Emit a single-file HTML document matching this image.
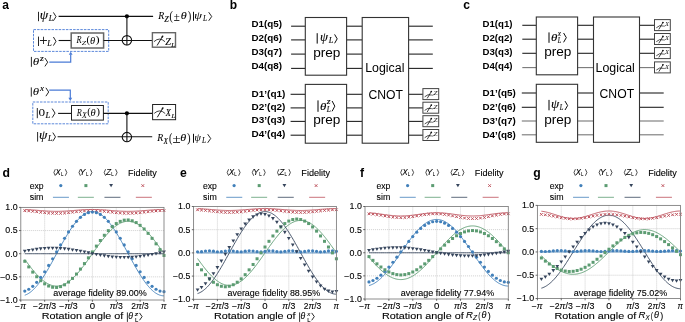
<!DOCTYPE html>
<html><head><meta charset="utf-8"><style>html,body{margin:0;padding:0;background:#fff;overflow:hidden}svg{display:block;will-change:transform}</style></head>
<body><svg width="685" height="322" viewBox="0 0 685 322">
<rect width="685" height="322" fill="#fff"/>
<text x="2.35" y="9" font-size="12" font-family="Liberation Sans" font-weight="bold" fill="#000" >a</text>
<line x1="38.5" y1="11.8" x2="38.5" y2="21.2" stroke="#000" stroke-width="0.85" />
<text x="39.79" y="18.9" font-size="11.5" font-family="Liberation Serif" font-style="italic" fill="#000" textLength="8.42" lengthAdjust="spacingAndGlyphs" stroke="#000" stroke-width="0.12">ψ</text>
<text x="48.89" y="21" font-size="8" font-family="Liberation Serif" font-style="italic" fill="#000" textLength="4.49" lengthAdjust="spacingAndGlyphs" stroke="#000" stroke-width="0.12">L</text>
<path d="M53.4 12.4 L56 16.6 L53.4 20.8" fill="none" stroke="#000" stroke-width="0.85" stroke-linejoin="miter"/>
<line x1="58.6" y1="16.4" x2="153.1" y2="16.4" stroke="#111" stroke-width="1.1" />
<rect x="33.5" y="29.6" width="75.2" height="21.8" stroke="#4A7BD6" stroke-width="0.9" fill="none" stroke-dasharray="2.5 1.1"/>
<line x1="38.5" y1="36.6" x2="38.5" y2="46" stroke="#000" stroke-width="0.85" />
<text x="39.16" y="44.7" font-size="15" font-family="Liberation Serif" fill="#000" textLength="8.36" lengthAdjust="spacingAndGlyphs" stroke="#000" stroke-width="0.12">+</text>
<text x="47.29" y="45.8" font-size="8" font-family="Liberation Serif" font-style="italic" fill="#000" textLength="4.49" lengthAdjust="spacingAndGlyphs" stroke="#000" stroke-width="0.12">L</text>
<path d="M53.4 37 L56 41.3 L53.4 45.6" fill="none" stroke="#000" stroke-width="0.85" stroke-linejoin="miter"/>
<line x1="58.6" y1="40.5" x2="71.2" y2="40.5" stroke="#111" stroke-width="1.1" />
<rect x="71.2" y="33" width="32.4" height="15" stroke="#666" stroke-width="1.5" fill="#fff" />
<text x="76.54" y="43.4" font-size="10.5" font-family="Liberation Serif" font-style="italic" fill="#000" textLength="5.09" lengthAdjust="spacingAndGlyphs" >R</text>
<text x="81.7" y="45.2" font-size="6.9" font-family="Liberation Serif" font-style="italic" fill="#000" textLength="4.43" lengthAdjust="spacingAndGlyphs" >Z</text>
<text x="86.64" y="43.35" font-size="10.1" font-family="Liberation Serif" fill="#000" textLength="3.5" lengthAdjust="spacingAndGlyphs" >(</text>
<text x="89.89" y="43.5" font-size="10.5" font-family="Liberation Serif" font-style="italic" fill="#000" textLength="5.16" lengthAdjust="spacingAndGlyphs" >θ</text>
<text x="95.6" y="43.35" font-size="10.1" font-family="Liberation Serif" fill="#000" textLength="4.15" lengthAdjust="spacingAndGlyphs" >)</text>
<line x1="103.6" y1="40.5" x2="152.4" y2="40.5" stroke="#111" stroke-width="1.1" />
<line x1="31.4" y1="56.9" x2="31.4" y2="66.8" stroke="#000" stroke-width="0.85" />
<text x="32.86" y="64.6" font-size="11" font-family="Liberation Serif" font-style="italic" fill="#000" textLength="6.45" lengthAdjust="spacingAndGlyphs" >θ</text>
<text x="40.11" y="61" font-size="7.5" font-family="Liberation Serif" font-style="italic" fill="#000" textLength="3.72" lengthAdjust="spacingAndGlyphs" stroke="#000" stroke-width="0.12">z</text>
<path d="M44.9 58 L47.7 62.2 L44.9 66.4" fill="none" stroke="#000" stroke-width="0.85" stroke-linejoin="miter"/>
<path d="M49.3 62.1 H70.7 V54.4" fill="none" stroke="#4A7BD6" stroke-width="1.2"/>
<path d="M68.8 54.8 L70.7 51.7 L72.6 54.8 Z" fill="#4A7BD6"/>
<circle cx="126.9" cy="16.3" r="2.1" fill="#000"/>
<line x1="126.9" y1="16.3" x2="126.9" y2="45.2" stroke="#111" stroke-width="1.1" />
<circle cx="126.9" cy="40.3" r="4.7" fill="none" stroke="#111" stroke-width="1.1"/>
<rect x="152.4" y="32.7" width="23.1" height="14.5" stroke="#666" stroke-width="1.4" fill="#fff" />
<path d="M154 41.6 Q159.5 36.55 165 41.7" fill="none" stroke="#111" stroke-width="0.8"/>
<line x1="157.1" y1="45.5" x2="162.3" y2="36.7" stroke="#111" stroke-width="0.95" />
<ellipse cx="162.4" cy="36.6" rx="0.9" ry="1.2" transform="rotate(30 162.4 36.6)" fill="#111"/>
<text x="165.28" y="44.6" font-size="9.5" font-family="Liberation Serif" font-style="italic" fill="#000" textLength="5.64" lengthAdjust="spacingAndGlyphs" stroke="#000" stroke-width="0.12">Z</text>
<text x="171.18" y="46.7" font-size="6.7" font-family="Liberation Serif" font-style="italic" fill="#000" textLength="3.74" lengthAdjust="spacingAndGlyphs" stroke="#000" stroke-width="0.12">L</text>
<text x="158.15" y="19" font-size="10.5" font-family="Liberation Serif" font-style="italic" fill="#000" textLength="6.01" lengthAdjust="spacingAndGlyphs" stroke="#000" stroke-width="0.08">R</text>
<text x="164.2" y="21.5" font-size="7.6" font-family="Liberation Serif" font-style="italic" fill="#000" textLength="4.43" lengthAdjust="spacingAndGlyphs" stroke="#000" stroke-width="0.08">Z</text>
<text x="169.57" y="19.5" font-size="11.7" font-family="Liberation Serif" fill="#000" textLength="3.24" lengthAdjust="spacingAndGlyphs" stroke="#000" stroke-width="0.08">(</text>
<text x="173.75" y="20.7" font-size="12.5" font-family="Liberation Serif" fill="#000" textLength="6.02" lengthAdjust="spacingAndGlyphs" stroke="#000" stroke-width="0.08">±</text>
<text x="180.81" y="19.3" font-size="10.5" font-family="Liberation Serif" font-style="italic" fill="#000" textLength="5.98" lengthAdjust="spacingAndGlyphs" stroke="#000" stroke-width="0.08">θ</text>
<text x="187.89" y="19.5" font-size="11.7" font-family="Liberation Serif" fill="#000" textLength="3.24" lengthAdjust="spacingAndGlyphs" stroke="#000" stroke-width="0.08">)</text>
<line x1="193.5" y1="11.8" x2="193.5" y2="20.8" stroke="#000" stroke-width="0.95" />
<text x="194.27" y="18.7" font-size="10" font-family="Liberation Serif" font-style="italic" fill="#000" textLength="7.66" lengthAdjust="spacingAndGlyphs" stroke="#000" stroke-width="0.08">ψ</text>
<text x="203.09" y="20.8" font-size="7.6" font-family="Liberation Serif" font-style="italic" fill="#000" textLength="4.06" lengthAdjust="spacingAndGlyphs" stroke="#000" stroke-width="0.08">L</text>
<path d="M208.7 12.2 L211.7 16.5 L208.7 20.8" fill="none" stroke="#000" stroke-width="0.85" stroke-linejoin="miter"/>
<line x1="31.3" y1="87.4" x2="31.3" y2="96.6" stroke="#000" stroke-width="0.85" />
<text x="32.77" y="95" font-size="11" font-family="Liberation Serif" font-style="italic" fill="#000" textLength="6.33" lengthAdjust="spacingAndGlyphs" >θ</text>
<text x="39.91" y="91.2" font-size="7.5" font-family="Liberation Serif" font-style="italic" fill="#000" textLength="3.96" lengthAdjust="spacingAndGlyphs" stroke="#000" stroke-width="0.12">x</text>
<path d="M45.9 87.8 L48.7 92 L45.9 96.2" fill="none" stroke="#000" stroke-width="0.85" stroke-linejoin="miter"/>
<path d="M49.2 90.2 H70.3 V98.0" fill="none" stroke="#4A7BD6" stroke-width="1.2"/>
<path d="M68.4 97.8 L70.3 100.9 L72.2 97.8 Z" fill="#4A7BD6"/>
<rect x="32.8" y="102" width="75.4" height="21.8" stroke="#4A7BD6" stroke-width="0.9" fill="none" stroke-dasharray="2.5 1.1"/>
<line x1="37.3" y1="108" x2="37.3" y2="118.2" stroke="#000" stroke-width="0.85" />
<text x="38.5" y="116.4" font-size="11" font-family="Liberation Serif" fill="#000" textLength="6.61" lengthAdjust="spacingAndGlyphs" >0</text>
<text x="45.5" y="118" font-size="8" font-family="Liberation Serif" font-style="italic" fill="#000" textLength="4.7" lengthAdjust="spacingAndGlyphs" stroke="#000" stroke-width="0.12">L</text>
<path d="M52.2 108.6 L55 113.1 L52.2 117.6" fill="none" stroke="#000" stroke-width="0.85" stroke-linejoin="miter"/>
<line x1="58.1" y1="113.4" x2="71.2" y2="113.4" stroke="#111" stroke-width="1.1" />
<rect x="71.5" y="105.5" width="31.9" height="14.6" stroke="#222" stroke-width="1" fill="#fff" />
<text x="76.84" y="115.7" font-size="10.5" font-family="Liberation Serif" font-style="italic" fill="#000" textLength="5.09" lengthAdjust="spacingAndGlyphs" >R</text>
<text x="82.06" y="117.5" font-size="7.3" font-family="Liberation Serif" font-style="italic" fill="#000" textLength="4.79" lengthAdjust="spacingAndGlyphs" >X</text>
<text x="87.24" y="115.4" font-size="9.8" font-family="Liberation Serif" fill="#000" textLength="3.5" lengthAdjust="spacingAndGlyphs" >(</text>
<text x="90.49" y="115.8" font-size="10.5" font-family="Liberation Serif" font-style="italic" fill="#000" textLength="5.16" lengthAdjust="spacingAndGlyphs" >θ</text>
<text x="96.24" y="115.4" font-size="9.8" font-family="Liberation Serif" fill="#000" textLength="3.76" lengthAdjust="spacingAndGlyphs" >)</text>
<line x1="103.2" y1="113.4" x2="152.6" y2="113.4" stroke="#111" stroke-width="1.1" />
<circle cx="126.9" cy="113.3" r="2.1" fill="#000"/>
<line x1="126.9" y1="113.3" x2="126.9" y2="142" stroke="#111" stroke-width="1.1" />
<circle cx="126.9" cy="137.1" r="4.7" fill="none" stroke="#111" stroke-width="1.1"/>
<rect x="152.6" y="104.5" width="23" height="15.2" stroke="#222" stroke-width="1" fill="#fff" />
<path d="M154.2 113.4 Q159.7 108.35 165.2 113.5" fill="none" stroke="#111" stroke-width="0.8"/>
<line x1="157.3" y1="117.3" x2="162.5" y2="108.5" stroke="#111" stroke-width="0.95" />
<ellipse cx="162.6" cy="108.4" rx="0.9" ry="1.2" transform="rotate(30 162.6 108.4)" fill="#111"/>
<text x="165.87" y="116.4" font-size="9.5" font-family="Liberation Serif" font-style="italic" fill="#000" textLength="5.06" lengthAdjust="spacingAndGlyphs" stroke="#000" stroke-width="0.12">X</text>
<text x="171.38" y="117.8" font-size="6.7" font-family="Liberation Serif" font-style="italic" fill="#000" textLength="3.74" lengthAdjust="spacingAndGlyphs" stroke="#000" stroke-width="0.12">L</text>
<line x1="37.6" y1="132" x2="37.6" y2="141.6" stroke="#000" stroke-width="0.85" />
<text x="38.99" y="139.2" font-size="11.5" font-family="Liberation Serif" font-style="italic" fill="#000" textLength="8.42" lengthAdjust="spacingAndGlyphs" stroke="#000" stroke-width="0.12">ψ</text>
<text x="48.09" y="141.4" font-size="8" font-family="Liberation Serif" font-style="italic" fill="#000" textLength="4.49" lengthAdjust="spacingAndGlyphs" stroke="#000" stroke-width="0.12">L</text>
<path d="M52.8 132.6 L55.5 136.9 L52.8 141.2" fill="none" stroke="#000" stroke-width="0.85" stroke-linejoin="miter"/>
<line x1="57.6" y1="136.8" x2="152.2" y2="136.8" stroke="#111" stroke-width="1.1" />
<text x="157.15" y="141" font-size="10.5" font-family="Liberation Serif" font-style="italic" fill="#000" textLength="6.01" lengthAdjust="spacingAndGlyphs" stroke="#000" stroke-width="0.08">R</text>
<text x="163.54" y="143.5" font-size="7.6" font-family="Liberation Serif" font-style="italic" fill="#000" textLength="4.34" lengthAdjust="spacingAndGlyphs" stroke="#000" stroke-width="0.08">X</text>
<text x="168.97" y="141.5" font-size="11.7" font-family="Liberation Serif" fill="#000" textLength="3.24" lengthAdjust="spacingAndGlyphs" stroke="#000" stroke-width="0.08">(</text>
<text x="172.58" y="142.7" font-size="12.5" font-family="Liberation Serif" fill="#000" textLength="8.14" lengthAdjust="spacingAndGlyphs" stroke="#000" stroke-width="0.08">±</text>
<text x="180.21" y="141.3" font-size="10.5" font-family="Liberation Serif" font-style="italic" fill="#000" textLength="5.98" lengthAdjust="spacingAndGlyphs" stroke="#000" stroke-width="0.08">θ</text>
<text x="187.29" y="141.5" font-size="11.7" font-family="Liberation Serif" fill="#000" textLength="3.24" lengthAdjust="spacingAndGlyphs" stroke="#000" stroke-width="0.08">)</text>
<line x1="193.5" y1="133.8" x2="193.5" y2="142.8" stroke="#000" stroke-width="0.95" />
<text x="194.59" y="140.7" font-size="10" font-family="Liberation Serif" font-style="italic" fill="#000" textLength="6.37" lengthAdjust="spacingAndGlyphs" stroke="#000" stroke-width="0.08">ψ</text>
<text x="202.09" y="142.8" font-size="7.6" font-family="Liberation Serif" font-style="italic" fill="#000" textLength="4.06" lengthAdjust="spacingAndGlyphs" stroke="#000" stroke-width="0.08">L</text>
<path d="M207.7 134.2 L210.7 138.5 L207.7 142.8" fill="none" stroke="#000" stroke-width="0.85" stroke-linejoin="miter"/>
<text x="229.81" y="9" font-size="12" font-family="Liberation Sans" font-weight="bold" fill="#000" >b</text>
<text x="251.54" y="26.7" font-size="8.9" font-family="Liberation Sans" font-weight="bold" fill="#000" textLength="30.55" lengthAdjust="spacingAndGlyphs" >D1(q5)</text>
<text x="251.54" y="40.5" font-size="8.9" font-family="Liberation Sans" font-weight="bold" fill="#000" textLength="30.55" lengthAdjust="spacingAndGlyphs" >D2(q6)</text>
<text x="251.54" y="54.8" font-size="8.9" font-family="Liberation Sans" font-weight="bold" fill="#000" textLength="30.55" lengthAdjust="spacingAndGlyphs" >D3(q7)</text>
<text x="251.54" y="69.2" font-size="8.9" font-family="Liberation Sans" font-weight="bold" fill="#000" textLength="30.55" lengthAdjust="spacingAndGlyphs" >D4(q8)</text>
<text x="251.53" y="96.5" font-size="8.9" font-family="Liberation Sans" font-weight="bold" fill="#000" textLength="33.87" lengthAdjust="spacingAndGlyphs" >D1’(q1)</text>
<text x="251.53" y="110.4" font-size="8.9" font-family="Liberation Sans" font-weight="bold" fill="#000" textLength="33.87" lengthAdjust="spacingAndGlyphs" >D2’(q2)</text>
<text x="251.53" y="123.2" font-size="8.9" font-family="Liberation Sans" font-weight="bold" fill="#000" textLength="33.87" lengthAdjust="spacingAndGlyphs" >D3’(q3)</text>
<text x="251.53" y="137" font-size="8.9" font-family="Liberation Sans" font-weight="bold" fill="#000" textLength="33.87" lengthAdjust="spacingAndGlyphs" >D4’(q4)</text>
<line x1="291.1" y1="26.2" x2="305.3" y2="26.2" stroke="#222" stroke-width="1.1" />
<line x1="346.6" y1="26.2" x2="362.2" y2="26.2" stroke="#222" stroke-width="1.1" />
<line x1="408.6" y1="26.2" x2="432.8" y2="26.2" stroke="#222" stroke-width="1.1" />
<line x1="291.1" y1="39.9" x2="305.3" y2="39.9" stroke="#222" stroke-width="1.1" />
<line x1="346.6" y1="39.9" x2="362.2" y2="39.9" stroke="#222" stroke-width="1.1" />
<line x1="408.6" y1="39.9" x2="432.8" y2="39.9" stroke="#222" stroke-width="1.1" />
<line x1="291.1" y1="54.1" x2="305.3" y2="54.1" stroke="#222" stroke-width="1.1" />
<line x1="346.6" y1="54.1" x2="362.2" y2="54.1" stroke="#222" stroke-width="1.1" />
<line x1="408.6" y1="54.1" x2="432.8" y2="54.1" stroke="#222" stroke-width="1.1" />
<line x1="291.1" y1="68.4" x2="305.3" y2="68.4" stroke="#222" stroke-width="1.1" />
<line x1="346.6" y1="68.4" x2="362.2" y2="68.4" stroke="#222" stroke-width="1.1" />
<line x1="408.6" y1="68.4" x2="432.8" y2="68.4" stroke="#222" stroke-width="1.1" />
<line x1="290.6" y1="94.3" x2="305.3" y2="94.3" stroke="#222" stroke-width="1.1" />
<line x1="346.6" y1="94.3" x2="362.2" y2="94.3" stroke="#222" stroke-width="1.1" />
<line x1="408.6" y1="94.3" x2="422.9" y2="94.3" stroke="#222" stroke-width="1.1" />
<line x1="290.6" y1="107.9" x2="305.3" y2="107.9" stroke="#222" stroke-width="1.1" />
<line x1="346.6" y1="107.9" x2="362.2" y2="107.9" stroke="#222" stroke-width="1.1" />
<line x1="408.6" y1="107.9" x2="422.9" y2="107.9" stroke="#222" stroke-width="1.1" />
<line x1="290.6" y1="121.4" x2="305.3" y2="121.4" stroke="#222" stroke-width="1.1" />
<line x1="346.6" y1="121.4" x2="362.2" y2="121.4" stroke="#222" stroke-width="1.1" />
<line x1="408.6" y1="121.4" x2="422.9" y2="121.4" stroke="#222" stroke-width="1.1" />
<line x1="290.6" y1="135.2" x2="305.3" y2="135.2" stroke="#222" stroke-width="1.1" />
<line x1="346.6" y1="135.2" x2="362.2" y2="135.2" stroke="#222" stroke-width="1.1" />
<line x1="408.6" y1="135.2" x2="422.9" y2="135.2" stroke="#222" stroke-width="1.1" />
<rect x="305.3" y="17.5" width="41.3" height="57.7" stroke="#333" stroke-width="1.1" fill="#fff" />
<rect x="305.3" y="84.4" width="41.3" height="58.8" stroke="#333" stroke-width="1.1" fill="#fff" />
<rect x="362.2" y="17.5" width="46.4" height="125.7" stroke="#333" stroke-width="1.1" fill="#fff" />
<line x1="317.2" y1="33.2" x2="317.2" y2="43.6" stroke="#000" stroke-width="1" />
<text x="320.03" y="41.3" font-size="11.5" font-family="Liberation Serif" font-style="italic" fill="#000" textLength="7.98" lengthAdjust="spacingAndGlyphs" stroke="#000" stroke-width="0.12">ψ</text>
<text x="328.7" y="43.3" font-size="7.8" font-family="Liberation Serif" font-style="italic" fill="#000" textLength="4.59" lengthAdjust="spacingAndGlyphs" stroke="#000" stroke-width="0.12">L</text>
<path d="M334.6 34.4 L337.2 38.85 L334.6 43.3" fill="none" stroke="#000" stroke-width="0.95" stroke-linejoin="miter"/>
<line x1="318" y1="100.4" x2="318" y2="111.8" stroke="#000" stroke-width="1" />
<text x="320.07" y="109.6" font-size="11" font-family="Liberation Serif" font-style="italic" fill="#000" textLength="6.33" lengthAdjust="spacingAndGlyphs" stroke="#000" stroke-width="0.12">θ</text>
<text x="326.81" y="104.2" font-size="7.4" font-family="Liberation Serif" font-style="italic" fill="#000" textLength="3.82" lengthAdjust="spacingAndGlyphs" stroke="#000" stroke-width="0.12">z</text>
<text x="326.79" y="112.4" font-size="7.4" font-family="Liberation Serif" font-style="italic" fill="#000" textLength="4.06" lengthAdjust="spacingAndGlyphs" stroke="#000" stroke-width="0.12">L</text>
<path d="M332.1 101 L334.8 106.15 L332.1 111.3" fill="none" stroke="#000" stroke-width="0.95" stroke-linejoin="miter"/>
<text x="313.17" y="56.9" font-size="12.5" font-family="Liberation Sans" fill="#000" textLength="27.25" lengthAdjust="spacingAndGlyphs" >prep</text>
<text x="313.17" y="123.8" font-size="12.5" font-family="Liberation Sans" fill="#000" textLength="27.25" lengthAdjust="spacingAndGlyphs" >prep</text>
<text x="365.18" y="72.1" font-size="12" font-family="Liberation Sans" fill="#000" textLength="39.24" lengthAdjust="spacingAndGlyphs" >Logical</text>
<text x="368.48" y="98.5" font-size="12" font-family="Liberation Sans" fill="#000" textLength="34.5" lengthAdjust="spacingAndGlyphs" >CNOT</text>
<rect x="422.9" y="88.6" width="15.8" height="11" stroke="#444" stroke-width="1" fill="#fff" />
<path d="M424.7 96.8 Q427.9 93.6 431.3 95" fill="none" stroke="#111" stroke-width="0.75"/>
<line x1="427.2" y1="98.4" x2="431.5" y2="91.2" stroke="#111" stroke-width="0.8" />
<circle cx="431.3" cy="91.5" r="0.85" fill="#111"/>
<path d="M431.3 95 Q432.9 95.6 433.9 94.6" fill="none" stroke="#111" stroke-width="0.6"/>
<text x="433.41" y="95.2" font-size="6.8" font-family="Liberation Serif" font-style="italic" fill="#000" textLength="4.03" lengthAdjust="spacingAndGlyphs" >Z</text>
<rect x="422.9" y="102.2" width="15.8" height="11" stroke="#444" stroke-width="1" fill="#fff" />
<path d="M424.7 110.4 Q427.9 107.2 431.3 108.6" fill="none" stroke="#111" stroke-width="0.75"/>
<line x1="427.2" y1="112" x2="431.5" y2="104.8" stroke="#111" stroke-width="0.8" />
<circle cx="431.3" cy="105.1" r="0.85" fill="#111"/>
<path d="M431.3 108.6 Q432.9 109.2 433.9 108.2" fill="none" stroke="#111" stroke-width="0.6"/>
<text x="433.41" y="108.8" font-size="6.8" font-family="Liberation Serif" font-style="italic" fill="#000" textLength="4.03" lengthAdjust="spacingAndGlyphs" >Z</text>
<rect x="422.9" y="115.7" width="15.8" height="11" stroke="#444" stroke-width="1" fill="#fff" />
<path d="M424.7 123.9 Q427.9 120.7 431.3 122.1" fill="none" stroke="#111" stroke-width="0.75"/>
<line x1="427.2" y1="125.5" x2="431.5" y2="118.3" stroke="#111" stroke-width="0.8" />
<circle cx="431.3" cy="118.6" r="0.85" fill="#111"/>
<path d="M431.3 122.1 Q432.9 122.7 433.9 121.7" fill="none" stroke="#111" stroke-width="0.6"/>
<text x="433.41" y="122.3" font-size="6.8" font-family="Liberation Serif" font-style="italic" fill="#000" textLength="4.03" lengthAdjust="spacingAndGlyphs" >Z</text>
<rect x="422.9" y="129.5" width="15.8" height="11" stroke="#444" stroke-width="1" fill="#fff" />
<path d="M424.7 137.7 Q427.9 134.5 431.3 135.9" fill="none" stroke="#111" stroke-width="0.75"/>
<line x1="427.2" y1="139.3" x2="431.5" y2="132.1" stroke="#111" stroke-width="0.8" />
<circle cx="431.3" cy="132.4" r="0.85" fill="#111"/>
<path d="M431.3 135.9 Q432.9 136.5 433.9 135.5" fill="none" stroke="#111" stroke-width="0.6"/>
<text x="433.41" y="136.1" font-size="6.8" font-family="Liberation Serif" font-style="italic" fill="#000" textLength="4.03" lengthAdjust="spacingAndGlyphs" >Z</text>
<text x="463.13" y="9" font-size="12" font-family="Liberation Sans" font-weight="bold" fill="#000" >c</text>
<text x="482.45" y="27.4" font-size="8.9" font-family="Liberation Sans" font-weight="bold" fill="#000" textLength="30.03" lengthAdjust="spacingAndGlyphs" >D1(q1)</text>
<text x="482.45" y="40.8" font-size="8.9" font-family="Liberation Sans" font-weight="bold" fill="#000" textLength="30.03" lengthAdjust="spacingAndGlyphs" >D2(q2)</text>
<text x="482.45" y="54.8" font-size="8.9" font-family="Liberation Sans" font-weight="bold" fill="#000" textLength="30.03" lengthAdjust="spacingAndGlyphs" >D3(q3)</text>
<text x="482.45" y="69.3" font-size="8.9" font-family="Liberation Sans" font-weight="bold" fill="#000" textLength="30.03" lengthAdjust="spacingAndGlyphs" >D4(q4)</text>
<text x="482.44" y="96.2" font-size="8.9" font-family="Liberation Sans" font-weight="bold" fill="#000" textLength="33.45" lengthAdjust="spacingAndGlyphs" >D1’(q5)</text>
<text x="482.44" y="110.1" font-size="8.9" font-family="Liberation Sans" font-weight="bold" fill="#000" textLength="33.45" lengthAdjust="spacingAndGlyphs" >D2’(q6)</text>
<text x="482.44" y="123.8" font-size="8.9" font-family="Liberation Sans" font-weight="bold" fill="#000" textLength="33.45" lengthAdjust="spacingAndGlyphs" >D3’(q7)</text>
<text x="482.44" y="137.6" font-size="8.9" font-family="Liberation Sans" font-weight="bold" fill="#000" textLength="33.45" lengthAdjust="spacingAndGlyphs" >D4’(q8)</text>
<line x1="522.3" y1="25.3" x2="536.3" y2="25.3" stroke="#222" stroke-width="1.1" />
<line x1="577.6" y1="25.3" x2="593.5" y2="25.3" stroke="#222" stroke-width="1.1" />
<line x1="639.5" y1="25.3" x2="654.4" y2="25.3" stroke="#222" stroke-width="1.1" />
<line x1="522.3" y1="39.2" x2="536.3" y2="39.2" stroke="#222" stroke-width="1.1" />
<line x1="577.6" y1="39.2" x2="593.5" y2="39.2" stroke="#222" stroke-width="1.1" />
<line x1="639.5" y1="39.2" x2="654.4" y2="39.2" stroke="#222" stroke-width="1.1" />
<line x1="522.3" y1="53.3" x2="536.3" y2="53.3" stroke="#222" stroke-width="1.1" />
<line x1="577.6" y1="53.3" x2="593.5" y2="53.3" stroke="#222" stroke-width="1.1" />
<line x1="639.5" y1="53.3" x2="654.4" y2="53.3" stroke="#222" stroke-width="1.1" />
<line x1="522.3" y1="67.6" x2="536.3" y2="67.6" stroke="#777" stroke-width="1.1" />
<line x1="577.6" y1="67.6" x2="593.5" y2="67.6" stroke="#777" stroke-width="1.1" />
<line x1="639.5" y1="67.6" x2="654.4" y2="67.6" stroke="#777" stroke-width="1.1" />
<line x1="521.8" y1="93" x2="536.3" y2="93" stroke="#222" stroke-width="1.1" />
<line x1="577.6" y1="93" x2="593.5" y2="93" stroke="#222" stroke-width="1.1" />
<line x1="639.5" y1="93" x2="663.7" y2="93" stroke="#222" stroke-width="1.1" />
<line x1="521.8" y1="107.3" x2="536.3" y2="107.3" stroke="#222" stroke-width="1.1" />
<line x1="577.6" y1="107.3" x2="593.5" y2="107.3" stroke="#222" stroke-width="1.1" />
<line x1="639.5" y1="107.3" x2="663.7" y2="107.3" stroke="#222" stroke-width="1.1" />
<line x1="521.8" y1="121" x2="536.3" y2="121" stroke="#777" stroke-width="1.1" />
<line x1="577.6" y1="121" x2="593.5" y2="121" stroke="#777" stroke-width="1.1" />
<line x1="639.5" y1="121" x2="663.7" y2="121" stroke="#777" stroke-width="1.1" />
<line x1="521.8" y1="134.8" x2="536.3" y2="134.8" stroke="#777" stroke-width="1.1" />
<line x1="577.6" y1="134.8" x2="593.5" y2="134.8" stroke="#777" stroke-width="1.1" />
<line x1="639.5" y1="134.8" x2="663.7" y2="134.8" stroke="#777" stroke-width="1.1" />
<rect x="536.3" y="17" width="41.3" height="57.8" stroke="#333" stroke-width="1.1" fill="#fff" />
<rect x="536.3" y="84.3" width="41.3" height="58" stroke="#333" stroke-width="1.1" fill="#fff" />
<rect x="593.5" y="17" width="46" height="125.3" stroke="#333" stroke-width="1.1" fill="#fff" />
<line x1="549" y1="32.4" x2="549" y2="42.8" stroke="#000" stroke-width="1" />
<text x="551.07" y="40.6" font-size="11" font-family="Liberation Serif" font-style="italic" fill="#000" textLength="6.33" lengthAdjust="spacingAndGlyphs" stroke="#000" stroke-width="0.12">θ</text>
<text x="557.79" y="36.2" font-size="7.4" font-family="Liberation Serif" font-style="italic" fill="#000" textLength="3.26" lengthAdjust="spacingAndGlyphs" stroke="#000" stroke-width="0.12">x</text>
<text x="557.77" y="43.4" font-size="7.4" font-family="Liberation Serif" font-style="italic" fill="#000" textLength="3.53" lengthAdjust="spacingAndGlyphs" stroke="#000" stroke-width="0.12">L</text>
<path d="M563.6 33 L566.3 37.65 L563.6 42.3" fill="none" stroke="#000" stroke-width="0.95" stroke-linejoin="miter"/>
<line x1="549" y1="99.9" x2="549" y2="110.3" stroke="#000" stroke-width="1" />
<text x="550.91" y="108" font-size="11.5" font-family="Liberation Serif" font-style="italic" fill="#000" textLength="8.2" lengthAdjust="spacingAndGlyphs" stroke="#000" stroke-width="0.12">ψ</text>
<text x="559.78" y="110" font-size="7.8" font-family="Liberation Serif" font-style="italic" fill="#000" textLength="3.63" lengthAdjust="spacingAndGlyphs" stroke="#000" stroke-width="0.12">L</text>
<path d="M565 101.1 L567.6 105.55 L565 110" fill="none" stroke="#000" stroke-width="0.95" stroke-linejoin="miter"/>
<text x="544.17" y="55.8" font-size="12.5" font-family="Liberation Sans" fill="#000" textLength="27.25" lengthAdjust="spacingAndGlyphs" >prep</text>
<text x="544.17" y="123.8" font-size="12.5" font-family="Liberation Sans" fill="#000" textLength="27.25" lengthAdjust="spacingAndGlyphs" >prep</text>
<text x="595.58" y="71.5" font-size="12" font-family="Liberation Sans" fill="#000" textLength="39.24" lengthAdjust="spacingAndGlyphs" >Logical</text>
<text x="599.58" y="97.6" font-size="12" font-family="Liberation Sans" fill="#000" textLength="34.5" lengthAdjust="spacingAndGlyphs" >CNOT</text>
<rect x="654.5" y="19.6" width="15.8" height="11" stroke="#444" stroke-width="1" fill="#fff" />
<path d="M656.3 27.8 Q659.5 24.6 662.9 26" fill="none" stroke="#111" stroke-width="0.75"/>
<line x1="658.8" y1="29.4" x2="663.1" y2="22.2" stroke="#111" stroke-width="0.8" />
<circle cx="662.9" cy="22.5" r="0.85" fill="#111"/>
<path d="M662.9 26 Q664.5 26.6 665.5 25.6" fill="none" stroke="#111" stroke-width="0.6"/>
<text x="665.3" y="26.2" font-size="6.8" font-family="Liberation Serif" font-style="italic" fill="#000" textLength="3.61" lengthAdjust="spacingAndGlyphs" >X</text>
<rect x="654.5" y="33.5" width="15.8" height="11" stroke="#444" stroke-width="1" fill="#fff" />
<path d="M656.3 41.7 Q659.5 38.5 662.9 39.9" fill="none" stroke="#111" stroke-width="0.75"/>
<line x1="658.8" y1="43.3" x2="663.1" y2="36.1" stroke="#111" stroke-width="0.8" />
<circle cx="662.9" cy="36.4" r="0.85" fill="#111"/>
<path d="M662.9 39.9 Q664.5 40.5 665.5 39.5" fill="none" stroke="#111" stroke-width="0.6"/>
<text x="665.3" y="40.1" font-size="6.8" font-family="Liberation Serif" font-style="italic" fill="#000" textLength="3.61" lengthAdjust="spacingAndGlyphs" >X</text>
<rect x="654.5" y="47.6" width="15.8" height="11" stroke="#444" stroke-width="1" fill="#fff" />
<path d="M656.3 55.8 Q659.5 52.6 662.9 54" fill="none" stroke="#111" stroke-width="0.75"/>
<line x1="658.8" y1="57.4" x2="663.1" y2="50.2" stroke="#111" stroke-width="0.8" />
<circle cx="662.9" cy="50.5" r="0.85" fill="#111"/>
<path d="M662.9 54 Q664.5 54.6 665.5 53.6" fill="none" stroke="#111" stroke-width="0.6"/>
<text x="665.3" y="54.2" font-size="6.8" font-family="Liberation Serif" font-style="italic" fill="#000" textLength="3.61" lengthAdjust="spacingAndGlyphs" >X</text>
<rect x="654.5" y="61.9" width="15.8" height="11" stroke="#444" stroke-width="1" fill="#fff" />
<path d="M656.3 70.1 Q659.5 66.9 662.9 68.3" fill="none" stroke="#111" stroke-width="0.75"/>
<line x1="658.8" y1="71.7" x2="663.1" y2="64.5" stroke="#111" stroke-width="0.8" />
<circle cx="662.9" cy="64.8" r="0.85" fill="#111"/>
<path d="M662.9 68.3 Q664.5 68.9 665.5 67.9" fill="none" stroke="#111" stroke-width="0.6"/>
<text x="665.3" y="68.5" font-size="6.8" font-family="Liberation Serif" font-style="italic" fill="#000" textLength="3.61" lengthAdjust="spacingAndGlyphs" >X</text>
<text x="2.6" y="176.5" font-size="12.2" font-family="Liberation Sans" font-weight="bold" fill="#000" >d</text>
<path d="M55.3 169.2 L53.9 172.5 L55.3 175.8" fill="none" stroke="#222" stroke-width="0.8"/>
<text x="55.6" y="174.8" font-size="8.3" font-family="Liberation Sans" font-style="italic" fill="#000" textLength="5.16" lengthAdjust="spacingAndGlyphs" stroke="#000" stroke-width="0.1">X</text>
<text x="60.95" y="176.4" font-size="5.7" font-family="Liberation Sans" fill="#000" textLength="2.4" lengthAdjust="spacingAndGlyphs" stroke="#000" stroke-width="0.1">L</text>
<path d="M65.3 169.2 L66.8 172.5 L65.3 175.8" fill="none" stroke="#222" stroke-width="0.8" stroke-linejoin="miter"/>
<path d="M80.4 169.2 L79 172.5 L80.4 175.8" fill="none" stroke="#222" stroke-width="0.8"/>
<text x="79.62" y="174.8" font-size="8.3" font-family="Liberation Sans" font-style="italic" fill="#000" textLength="5.94" lengthAdjust="spacingAndGlyphs" stroke="#000" stroke-width="0.1">Y</text>
<text x="86.05" y="176.4" font-size="5.7" font-family="Liberation Sans" fill="#000" textLength="2.4" lengthAdjust="spacingAndGlyphs" stroke="#000" stroke-width="0.1">L</text>
<path d="M90.4 169.2 L91.9 172.5 L90.4 175.8" fill="none" stroke="#222" stroke-width="0.8" stroke-linejoin="miter"/>
<path d="M105.6 169.2 L104.2 172.5 L105.6 175.8" fill="none" stroke="#222" stroke-width="0.8"/>
<text x="105.91" y="174.8" font-size="8.3" font-family="Liberation Sans" font-style="italic" fill="#000" textLength="5.15" lengthAdjust="spacingAndGlyphs" stroke="#000" stroke-width="0.1">Z</text>
<text x="111.25" y="176.4" font-size="5.7" font-family="Liberation Sans" fill="#000" textLength="2.4" lengthAdjust="spacingAndGlyphs" stroke="#000" stroke-width="0.1">L</text>
<path d="M115.6 169.2 L117.1 172.5 L115.6 175.8" fill="none" stroke="#222" stroke-width="0.8" stroke-linejoin="miter"/>
<text x="128.06" y="176.1" font-size="8.9" font-family="Liberation Sans" fill="#000" textLength="28.76" lengthAdjust="spacingAndGlyphs" stroke="#000" stroke-width="0.1">Fidelity</text>
<text x="29.63" y="188.6" font-size="8.9" font-family="Liberation Sans" fill="#000" textLength="13.93" lengthAdjust="spacingAndGlyphs" stroke="#000" stroke-width="0.1">exp</text>
<text x="29.75" y="199.9" font-size="8.9" font-family="Liberation Sans" fill="#000" textLength="13.73" lengthAdjust="spacingAndGlyphs" stroke="#000" stroke-width="0.1">sim</text>
<circle cx="60.8" cy="185.6" r="1.6" fill="#4280BA"/>
<rect x="84.4" y="184.1" width="3" height="3" fill="#5C9C72"/>
<path d="M109.2 183.9 L113 183.9 L111.1 187.2 Z" fill="#36455C"/>
<path d="M141.5 184.3 L144.1 186.9 M141.5 186.9 L144.1 184.3" stroke="#BD4F5A" stroke-width="1.0" fill="none"/>
<line x1="52.95" y1="197.3" x2="68.95" y2="197.3" stroke="#4280BA" stroke-width="0.8" />
<line x1="77.85" y1="197.3" x2="93.85" y2="197.3" stroke="#5C9C72" stroke-width="0.8" />
<line x1="104.45" y1="197.3" x2="120.45" y2="197.3" stroke="#36455C" stroke-width="0.8" />
<line x1="135.85" y1="197.3" x2="151.85" y2="197.3" stroke="#BD4F5A" stroke-width="0.8" />
<line x1="44.67" y1="207.4" x2="44.67" y2="300" stroke="#bdbdbd" stroke-width="0.65" stroke-dasharray="1.1 0.9"/>
<line x1="68.53" y1="207.4" x2="68.53" y2="300" stroke="#bdbdbd" stroke-width="0.65" stroke-dasharray="1.1 0.9"/>
<line x1="92.4" y1="207.4" x2="92.4" y2="300" stroke="#bdbdbd" stroke-width="0.65" stroke-dasharray="1.1 0.9"/>
<line x1="116.27" y1="207.4" x2="116.27" y2="300" stroke="#bdbdbd" stroke-width="0.65" stroke-dasharray="1.1 0.9"/>
<line x1="140.13" y1="207.4" x2="140.13" y2="300" stroke="#bdbdbd" stroke-width="0.65" stroke-dasharray="1.1 0.9"/>
<line x1="20.8" y1="230.55" x2="164" y2="230.55" stroke="#bdbdbd" stroke-width="0.65" stroke-dasharray="1.1 0.9"/>
<line x1="20.8" y1="253.7" x2="164" y2="253.7" stroke="#bdbdbd" stroke-width="0.65" stroke-dasharray="1.1 0.9"/>
<line x1="20.8" y1="276.85" x2="164" y2="276.85" stroke="#bdbdbd" stroke-width="0.65" stroke-dasharray="1.1 0.9"/>
<path d="M24.78 209.54 L25.65 209.57 L26.52 209.6 L27.39 209.63 L28.26 209.67 L29.13 209.72 L30 209.77 L30.87 209.82 L31.74 209.88 L32.61 209.94 L33.48 210 L34.35 210.06 L35.22 210.13 L36.09 210.2 L36.96 210.27 L37.83 210.34 L38.7 210.41 L39.57 210.48 L40.44 210.55 L41.31 210.62 L42.18 210.69 L43.05 210.75 L43.92 210.82 L44.79 210.88 L45.66 210.94 L46.53 211 L47.4 211.05 L48.27 211.1 L49.14 211.14 L50.01 211.19 L50.88 211.22 L51.75 211.25 L52.62 211.28 L53.49 211.3 L54.36 211.32 L55.23 211.33 L56.1 211.33 L56.97 211.34 L57.84 211.33 L58.71 211.32 L59.58 211.3 L60.45 211.28 L61.32 211.26 L62.19 211.23 L63.06 211.19 L63.93 211.15 L64.8 211.11 L65.67 211.06 L66.54 211 L67.41 210.95 L68.28 210.89 L69.15 210.83 L70.02 210.76 L70.9 210.7 L71.77 210.63 L72.64 210.56 L73.51 210.49 L74.38 210.42 L75.25 210.35 L76.12 210.28 L76.99 210.21 L77.86 210.14 L78.73 210.07 L79.6 210.01 L80.47 209.95 L81.34 209.89 L82.21 209.83 L83.08 209.78 L83.95 209.73 L84.82 209.68 L85.69 209.64 L86.56 209.6 L87.43 209.57 L88.3 209.54 L89.17 209.52 L90.04 209.5 L90.91 209.49 L91.78 209.48 L92.65 209.48 L93.52 209.49 L94.39 209.5 L95.26 209.51 L96.13 209.53 L97 209.56 L97.87 209.59 L98.74 209.62 L99.61 209.66 L100.48 209.71 L101.35 209.75 L102.22 209.81 L103.09 209.86 L103.96 209.92 L104.83 209.98 L105.7 210.05 L106.57 210.11 L107.44 210.18 L108.31 210.25 L109.18 210.32 L110.05 210.39 L110.92 210.46 L111.79 210.53 L112.66 210.6 L113.53 210.67 L114.4 210.74 L115.27 210.8 L116.14 210.86 L117.01 210.92 L117.88 210.98 L118.75 211.04 L119.62 211.09 L120.49 211.13 L121.36 211.17 L122.23 211.21 L123.1 211.24 L123.97 211.27 L124.84 211.3 L125.71 211.31 L126.58 211.33 L127.45 211.33 L128.32 211.34 L129.19 211.33 L130.06 211.32 L130.93 211.31 L131.8 211.29 L132.67 211.27 L133.55 211.24 L134.42 211.2 L135.29 211.16 L136.16 211.12 L137.03 211.07 L137.9 211.02 L138.77 210.97 L139.64 210.91 L140.51 210.85 L141.38 210.78 L142.25 210.72 L143.12 210.65 L143.99 210.58 L144.86 210.51 L145.73 210.44 L146.6 210.37 L147.47 210.3 L148.34 210.23 L149.21 210.16 L150.08 210.09 L150.95 210.03 L151.82 209.96 L152.69 209.9 L153.56 209.85 L154.43 209.79 L155.3 209.74 L156.17 209.69 L157.04 209.65 L157.91 209.61 L158.78 209.58 L159.65 209.55 L160.52 209.53 L161.39 209.51 L162.26 209.49 L163.13 209.49 L164 209.48" fill="none" stroke="#BD4F5A" stroke-width="0.9"/>
<path d="M24.78 295.19 L25.65 294.88 L26.52 294.51 L27.39 294.08 L28.26 293.6 L29.13 293.05 L30 292.45 L30.87 291.79 L31.74 291.07 L32.61 290.3 L33.48 289.48 L34.35 288.6 L35.22 287.68 L36.09 286.7 L36.96 285.68 L37.83 284.61 L38.7 283.49 L39.57 282.33 L40.44 281.13 L41.31 279.89 L42.18 278.61 L43.05 277.3 L43.92 275.95 L44.79 274.57 L45.66 273.15 L46.53 271.71 L47.4 270.25 L48.27 268.76 L49.14 267.24 L50.01 265.71 L50.88 264.16 L51.75 262.59 L52.62 261.02 L53.49 259.43 L54.36 257.83 L55.23 256.23 L56.1 254.62 L56.97 253.01 L57.84 251.4 L58.71 249.8 L59.58 248.2 L60.45 246.61 L61.32 245.03 L62.19 243.46 L63.06 241.91 L63.93 240.37 L64.8 238.86 L65.67 237.36 L66.54 235.89 L67.41 234.45 L68.28 233.03 L69.15 231.65 L70.02 230.29 L70.9 228.97 L71.77 227.69 L72.64 226.44 L73.51 225.24 L74.38 224.07 L75.25 222.95 L76.12 221.87 L76.99 220.84 L77.86 219.86 L78.73 218.93 L79.6 218.04 L80.47 217.21 L81.34 216.43 L82.21 215.71 L83.08 215.04 L83.95 214.43 L84.82 213.88 L85.69 213.38 L86.56 212.94 L87.43 212.57 L88.3 212.25 L89.17 211.99 L90.04 211.79 L90.91 211.66 L91.78 211.58 L92.65 211.57 L93.52 211.62 L94.39 211.73 L95.26 211.9 L96.13 212.13 L97 212.42 L97.87 212.77 L98.74 213.19 L99.61 213.66 L100.48 214.19 L101.35 214.77 L102.22 215.42 L103.09 216.12 L103.96 216.87 L104.83 217.68 L105.7 218.54 L106.57 219.45 L107.44 220.41 L108.31 221.42 L109.18 222.48 L110.05 223.58 L110.92 224.73 L111.79 225.92 L112.66 227.15 L113.53 228.42 L114.4 229.72 L115.27 231.06 L116.14 232.43 L117.01 233.84 L117.88 235.27 L118.75 236.73 L119.62 238.22 L120.49 239.72 L121.36 241.25 L122.23 242.8 L123.1 244.36 L123.97 245.93 L124.84 247.52 L125.71 249.11 L126.58 250.72 L127.45 252.32 L128.32 253.93 L129.19 255.54 L130.06 257.14 L130.93 258.74 L131.8 260.34 L132.67 261.92 L133.55 263.49 L134.42 265.05 L135.29 266.59 L136.16 268.11 L137.03 269.61 L137.9 271.09 L138.77 272.54 L139.64 273.97 L140.51 275.36 L141.38 276.72 L142.25 278.05 L143.12 279.35 L143.99 280.61 L144.86 281.82 L145.73 283 L146.6 284.14 L147.47 285.23 L148.34 286.27 L149.21 287.27 L150.08 288.21 L150.95 289.11 L151.82 289.96 L152.69 290.75 L153.56 291.49 L154.43 292.17 L155.3 292.8 L156.17 293.37 L157.04 293.88 L157.91 294.34 L158.78 294.73 L159.65 295.07 L160.52 295.34 L161.39 295.56 L162.26 295.71 L163.13 295.8 L164 295.83" fill="none" stroke="#4280BA" stroke-width="0.9"/>
<path d="M24.78 259.33 L25.65 260.54 L26.52 261.75 L27.39 262.94 L28.26 264.12 L29.13 265.28 L30 266.43 L30.87 267.56 L31.74 268.67 L32.61 269.75 L33.48 270.81 L34.35 271.85 L35.22 272.86 L36.09 273.85 L36.96 274.8 L37.83 275.73 L38.7 276.62 L39.57 277.48 L40.44 278.3 L41.31 279.09 L42.18 279.84 L43.05 280.55 L43.92 281.22 L44.79 281.86 L45.66 282.45 L46.53 283 L47.4 283.51 L48.27 283.97 L49.14 284.39 L50.01 284.77 L50.88 285.1 L51.75 285.38 L52.62 285.62 L53.49 285.81 L54.36 285.95 L55.23 286.05 L56.1 286.1 L56.97 286.11 L57.84 286.06 L58.71 285.97 L59.58 285.83 L60.45 285.65 L61.32 285.42 L62.19 285.14 L63.06 284.82 L63.93 284.45 L64.8 284.03 L65.67 283.57 L66.54 283.07 L67.41 282.53 L68.28 281.94 L69.15 281.32 L70.02 280.65 L70.9 279.94 L71.77 279.2 L72.64 278.41 L73.51 277.6 L74.38 276.74 L75.25 275.86 L76.12 274.94 L76.99 273.99 L77.86 273.01 L78.73 272 L79.6 270.96 L80.47 269.9 L81.34 268.82 L82.21 267.72 L83.08 266.59 L83.95 265.45 L84.82 264.29 L85.69 263.11 L86.56 261.92 L87.43 260.71 L88.3 259.5 L89.17 258.28 L90.04 257.05 L90.91 255.82 L91.78 254.58 L92.65 253.35 L93.52 252.11 L94.39 250.88 L95.26 249.64 L96.13 248.42 L97 247.2 L97.87 246 L98.74 244.8 L99.61 243.62 L100.48 242.45 L101.35 241.3 L102.22 240.16 L103.09 239.05 L103.96 237.96 L104.83 236.89 L105.7 235.84 L106.57 234.82 L107.44 233.83 L108.31 232.87 L109.18 231.93 L110.05 231.03 L110.92 230.17 L111.79 229.33 L112.66 228.53 L113.53 227.77 L114.4 227.05 L115.27 226.37 L116.14 225.72 L117.01 225.12 L117.88 224.55 L118.75 224.03 L119.62 223.56 L120.49 223.13 L121.36 222.74 L122.23 222.39 L123.1 222.1 L123.97 221.85 L124.84 221.64 L125.71 221.48 L126.58 221.37 L127.45 221.31 L128.32 221.29 L129.19 221.32 L130.06 221.4 L130.93 221.52 L131.8 221.69 L132.67 221.91 L133.55 222.18 L134.42 222.49 L135.29 222.84 L136.16 223.24 L137.03 223.69 L137.9 224.18 L138.77 224.71 L139.64 225.29 L140.51 225.9 L141.38 226.56 L142.25 227.25 L143.12 227.99 L143.99 228.76 L144.86 229.57 L145.73 230.41 L146.6 231.29 L147.47 232.2 L148.34 233.14 L149.21 234.11 L150.08 235.11 L150.95 236.14 L151.82 237.19 L152.69 238.27 L153.56 239.37 L154.43 240.49 L155.3 241.62 L156.17 242.78 L157.04 243.95 L157.91 245.14 L158.78 246.34 L159.65 247.55 L160.52 248.77 L161.39 250 L162.26 251.23 L163.13 252.46 L164 253.7" fill="none" stroke="#5C9C72" stroke-width="0.9"/>
<path d="M24.78 253.7 L25.65 253.7 L26.52 253.7 L27.39 253.7 L28.26 253.7 L29.13 253.7 L30 253.7 L30.87 253.7 L31.74 253.7 L32.61 253.7 L33.48 253.7 L34.35 253.7 L35.22 253.7 L36.09 253.7 L36.96 253.7 L37.83 253.7 L38.7 253.7 L39.57 253.7 L40.44 253.7 L41.31 253.7 L42.18 253.7 L43.05 253.7 L43.92 253.7 L44.79 253.7 L45.66 253.7 L46.53 253.7 L47.4 253.7 L48.27 253.7 L49.14 253.7 L50.01 253.7 L50.88 253.7 L51.75 253.7 L52.62 253.7 L53.49 253.7 L54.36 253.7 L55.23 253.7 L56.1 253.7 L56.97 253.7 L57.84 253.7 L58.71 253.7 L59.58 253.7 L60.45 253.7 L61.32 253.7 L62.19 253.7 L63.06 253.7 L63.93 253.7 L64.8 253.7 L65.67 253.7 L66.54 253.7 L67.41 253.7 L68.28 253.7 L69.15 253.7 L70.02 253.7 L70.9 253.7 L71.77 253.7 L72.64 253.7 L73.51 253.7 L74.38 253.7 L75.25 253.7 L76.12 253.7 L76.99 253.7 L77.86 253.7 L78.73 253.7 L79.6 253.7 L80.47 253.7 L81.34 253.7 L82.21 253.7 L83.08 253.7 L83.95 253.7 L84.82 253.7 L85.69 253.7 L86.56 253.7 L87.43 253.7 L88.3 253.7 L89.17 253.7 L90.04 253.7 L90.91 253.7 L91.78 253.7 L92.65 253.7 L93.52 253.7 L94.39 253.7 L95.26 253.7 L96.13 253.7 L97 253.7 L97.87 253.7 L98.74 253.7 L99.61 253.7 L100.48 253.7 L101.35 253.7 L102.22 253.7 L103.09 253.7 L103.96 253.7 L104.83 253.7 L105.7 253.7 L106.57 253.7 L107.44 253.7 L108.31 253.7 L109.18 253.7 L110.05 253.7 L110.92 253.7 L111.79 253.7 L112.66 253.7 L113.53 253.7 L114.4 253.7 L115.27 253.7 L116.14 253.7 L117.01 253.7 L117.88 253.7 L118.75 253.7 L119.62 253.7 L120.49 253.7 L121.36 253.7 L122.23 253.7 L123.1 253.7 L123.97 253.7 L124.84 253.7 L125.71 253.7 L126.58 253.7 L127.45 253.7 L128.32 253.7 L129.19 253.7 L130.06 253.7 L130.93 253.7 L131.8 253.7 L132.67 253.7 L133.55 253.7 L134.42 253.7 L135.29 253.7 L136.16 253.7 L137.03 253.7 L137.9 253.7 L138.77 253.7 L139.64 253.7 L140.51 253.7 L141.38 253.7 L142.25 253.7 L143.12 253.7 L143.99 253.7 L144.86 253.7 L145.73 253.7 L146.6 253.7 L147.47 253.7 L148.34 253.7 L149.21 253.7 L150.08 253.7 L150.95 253.7 L151.82 253.7 L152.69 253.7 L153.56 253.7 L154.43 253.7 L155.3 253.7 L156.17 253.7 L157.04 253.7 L157.91 253.7 L158.78 253.7 L159.65 253.7 L160.52 253.7 L161.39 253.7 L162.26 253.7 L163.13 253.7 L164 253.7" fill="none" stroke="#36455C" stroke-width="0.9"/>
<path d="M23.48 209.42 L26.08 212.02 M23.48 212.02 L26.08 209.42" stroke="#BD4F5A" stroke-width="1.0" fill="none"/>
<path d="M27.46 209.67 L30.06 212.27 M27.46 212.27 L30.06 209.67" stroke="#BD4F5A" stroke-width="1.0" fill="none"/>
<path d="M31.43 210.04 L34.03 212.64 M31.43 212.64 L34.03 210.04" stroke="#BD4F5A" stroke-width="1.0" fill="none"/>
<path d="M35.41 210.49 L38.01 213.09 M35.41 213.09 L38.01 210.49" stroke="#BD4F5A" stroke-width="1.0" fill="none"/>
<path d="M39.39 210.97 L41.99 213.57 M39.39 213.57 L41.99 210.97" stroke="#BD4F5A" stroke-width="1.0" fill="none"/>
<path d="M43.37 211.42 L45.97 214.02 M43.37 214.02 L45.97 211.42" stroke="#BD4F5A" stroke-width="1.0" fill="none"/>
<path d="M47.34 211.79 L49.94 214.39 M47.34 214.39 L49.94 211.79" stroke="#BD4F5A" stroke-width="1.0" fill="none"/>
<path d="M51.32 212.04 L53.92 214.64 M51.32 214.64 L53.92 212.04" stroke="#BD4F5A" stroke-width="1.0" fill="none"/>
<path d="M55.3 212.12 L57.9 214.72 M55.3 214.72 L57.9 212.12" stroke="#BD4F5A" stroke-width="1.0" fill="none"/>
<path d="M59.28 212.04 L61.88 214.64 M59.28 214.64 L61.88 212.04" stroke="#BD4F5A" stroke-width="1.0" fill="none"/>
<path d="M63.26 211.79 L65.86 214.39 M63.26 214.39 L65.86 211.79" stroke="#BD4F5A" stroke-width="1.0" fill="none"/>
<path d="M67.23 211.42 L69.83 214.02 M67.23 214.02 L69.83 211.42" stroke="#BD4F5A" stroke-width="1.0" fill="none"/>
<path d="M71.21 210.97 L73.81 213.57 M71.21 213.57 L73.81 210.97" stroke="#BD4F5A" stroke-width="1.0" fill="none"/>
<path d="M75.19 210.49 L77.79 213.09 M75.19 213.09 L77.79 210.49" stroke="#BD4F5A" stroke-width="1.0" fill="none"/>
<path d="M79.17 210.04 L81.77 212.64 M79.17 212.64 L81.77 210.04" stroke="#BD4F5A" stroke-width="1.0" fill="none"/>
<path d="M83.14 209.67 L85.74 212.27 M83.14 212.27 L85.74 209.67" stroke="#BD4F5A" stroke-width="1.0" fill="none"/>
<path d="M87.12 209.42 L89.72 212.02 M87.12 212.02 L89.72 209.42" stroke="#BD4F5A" stroke-width="1.0" fill="none"/>
<path d="M91.1 209.34 L93.7 211.94 M91.1 211.94 L93.7 209.34" stroke="#BD4F5A" stroke-width="1.0" fill="none"/>
<path d="M95.08 209.42 L97.68 212.02 M95.08 212.02 L97.68 209.42" stroke="#BD4F5A" stroke-width="1.0" fill="none"/>
<path d="M99.06 209.67 L101.66 212.27 M99.06 212.27 L101.66 209.67" stroke="#BD4F5A" stroke-width="1.0" fill="none"/>
<path d="M103.03 210.04 L105.63 212.64 M103.03 212.64 L105.63 210.04" stroke="#BD4F5A" stroke-width="1.0" fill="none"/>
<path d="M107.01 210.49 L109.61 213.09 M107.01 213.09 L109.61 210.49" stroke="#BD4F5A" stroke-width="1.0" fill="none"/>
<path d="M110.99 210.97 L113.59 213.57 M110.99 213.57 L113.59 210.97" stroke="#BD4F5A" stroke-width="1.0" fill="none"/>
<path d="M114.97 211.42 L117.57 214.02 M114.97 214.02 L117.57 211.42" stroke="#BD4F5A" stroke-width="1.0" fill="none"/>
<path d="M118.94 211.79 L121.54 214.39 M118.94 214.39 L121.54 211.79" stroke="#BD4F5A" stroke-width="1.0" fill="none"/>
<path d="M122.92 212.04 L125.52 214.64 M122.92 214.64 L125.52 212.04" stroke="#BD4F5A" stroke-width="1.0" fill="none"/>
<path d="M126.9 212.12 L129.5 214.72 M126.9 214.72 L129.5 212.12" stroke="#BD4F5A" stroke-width="1.0" fill="none"/>
<path d="M130.88 212.04 L133.48 214.64 M130.88 214.64 L133.48 212.04" stroke="#BD4F5A" stroke-width="1.0" fill="none"/>
<path d="M134.86 211.79 L137.46 214.39 M134.86 214.39 L137.46 211.79" stroke="#BD4F5A" stroke-width="1.0" fill="none"/>
<path d="M138.83 211.42 L141.43 214.02 M138.83 214.02 L141.43 211.42" stroke="#BD4F5A" stroke-width="1.0" fill="none"/>
<path d="M142.81 210.97 L145.41 213.57 M142.81 213.57 L145.41 210.97" stroke="#BD4F5A" stroke-width="1.0" fill="none"/>
<path d="M146.79 210.49 L149.39 213.09 M146.79 213.09 L149.39 210.49" stroke="#BD4F5A" stroke-width="1.0" fill="none"/>
<path d="M150.77 210.04 L153.37 212.64 M150.77 212.64 L153.37 210.04" stroke="#BD4F5A" stroke-width="1.0" fill="none"/>
<path d="M154.74 209.67 L157.34 212.27 M154.74 212.27 L157.34 209.67" stroke="#BD4F5A" stroke-width="1.0" fill="none"/>
<path d="M158.72 209.42 L161.32 212.02 M158.72 212.02 L161.32 209.42" stroke="#BD4F5A" stroke-width="1.0" fill="none"/>
<path d="M162.7 209.34 L165.3 211.94 M162.7 211.94 L165.3 209.34" stroke="#BD4F5A" stroke-width="1.0" fill="none"/>
<circle cx="24.78" cy="291.06" r="1.6" fill="#4280BA"/>
<circle cx="28.76" cy="289.26" r="1.6" fill="#4280BA"/>
<circle cx="32.73" cy="286.33" r="1.6" fill="#4280BA"/>
<circle cx="36.71" cy="282.35" r="1.6" fill="#4280BA"/>
<circle cx="40.69" cy="277.44" r="1.6" fill="#4280BA"/>
<circle cx="44.67" cy="271.76" r="1.6" fill="#4280BA"/>
<circle cx="48.64" cy="265.47" r="1.6" fill="#4280BA"/>
<circle cx="52.62" cy="258.76" r="1.6" fill="#4280BA"/>
<circle cx="56.6" cy="251.85" r="1.6" fill="#4280BA"/>
<circle cx="60.58" cy="244.93" r="1.6" fill="#4280BA"/>
<circle cx="64.56" cy="238.23" r="1.6" fill="#4280BA"/>
<circle cx="68.53" cy="231.94" r="1.6" fill="#4280BA"/>
<circle cx="72.51" cy="226.25" r="1.6" fill="#4280BA"/>
<circle cx="76.49" cy="221.35" r="1.6" fill="#4280BA"/>
<circle cx="80.47" cy="217.36" r="1.6" fill="#4280BA"/>
<circle cx="84.44" cy="214.43" r="1.6" fill="#4280BA"/>
<circle cx="88.42" cy="212.63" r="1.6" fill="#4280BA"/>
<circle cx="92.4" cy="212.03" r="1.6" fill="#4280BA"/>
<circle cx="96.38" cy="212.63" r="1.6" fill="#4280BA"/>
<circle cx="100.36" cy="214.43" r="1.6" fill="#4280BA"/>
<circle cx="104.33" cy="217.36" r="1.6" fill="#4280BA"/>
<circle cx="108.31" cy="221.35" r="1.6" fill="#4280BA"/>
<circle cx="112.29" cy="226.25" r="1.6" fill="#4280BA"/>
<circle cx="116.27" cy="231.94" r="1.6" fill="#4280BA"/>
<circle cx="120.24" cy="238.23" r="1.6" fill="#4280BA"/>
<circle cx="124.22" cy="244.93" r="1.6" fill="#4280BA"/>
<circle cx="128.2" cy="251.85" r="1.6" fill="#4280BA"/>
<circle cx="132.18" cy="258.76" r="1.6" fill="#4280BA"/>
<circle cx="136.16" cy="265.47" r="1.6" fill="#4280BA"/>
<circle cx="140.13" cy="271.76" r="1.6" fill="#4280BA"/>
<circle cx="144.11" cy="277.44" r="1.6" fill="#4280BA"/>
<circle cx="148.09" cy="282.35" r="1.6" fill="#4280BA"/>
<circle cx="152.07" cy="286.33" r="1.6" fill="#4280BA"/>
<circle cx="156.04" cy="289.26" r="1.6" fill="#4280BA"/>
<circle cx="160.02" cy="291.06" r="1.6" fill="#4280BA"/>
<circle cx="164" cy="291.67" r="1.6" fill="#4280BA"/>
<rect x="23.28" y="259.8" width="3" height="3" fill="#5C9C72"/>
<rect x="27.26" y="265.41" width="3" height="3" fill="#5C9C72"/>
<rect x="31.23" y="270.61" width="3" height="3" fill="#5C9C72"/>
<rect x="35.21" y="275.25" width="3" height="3" fill="#5C9C72"/>
<rect x="39.19" y="279.19" width="3" height="3" fill="#5C9C72"/>
<rect x="43.17" y="282.32" width="3" height="3" fill="#5C9C72"/>
<rect x="47.14" y="284.52" width="3" height="3" fill="#5C9C72"/>
<rect x="51.12" y="285.75" width="3" height="3" fill="#5C9C72"/>
<rect x="55.1" y="285.95" width="3" height="3" fill="#5C9C72"/>
<rect x="59.08" y="285.13" width="3" height="3" fill="#5C9C72"/>
<rect x="63.06" y="283.31" width="3" height="3" fill="#5C9C72"/>
<rect x="67.03" y="280.55" width="3" height="3" fill="#5C9C72"/>
<rect x="71.01" y="276.92" width="3" height="3" fill="#5C9C72"/>
<rect x="74.99" y="272.54" width="3" height="3" fill="#5C9C72"/>
<rect x="78.97" y="267.54" width="3" height="3" fill="#5C9C72"/>
<rect x="82.94" y="262.08" width="3" height="3" fill="#5C9C72"/>
<rect x="86.92" y="256.32" width="3" height="3" fill="#5C9C72"/>
<rect x="90.9" y="250.43" width="3" height="3" fill="#5C9C72"/>
<rect x="94.88" y="244.6" width="3" height="3" fill="#5C9C72"/>
<rect x="98.86" y="238.99" width="3" height="3" fill="#5C9C72"/>
<rect x="102.83" y="233.79" width="3" height="3" fill="#5C9C72"/>
<rect x="106.81" y="229.15" width="3" height="3" fill="#5C9C72"/>
<rect x="110.79" y="225.21" width="3" height="3" fill="#5C9C72"/>
<rect x="114.77" y="222.08" width="3" height="3" fill="#5C9C72"/>
<rect x="118.74" y="219.88" width="3" height="3" fill="#5C9C72"/>
<rect x="122.72" y="218.65" width="3" height="3" fill="#5C9C72"/>
<rect x="126.7" y="218.45" width="3" height="3" fill="#5C9C72"/>
<rect x="130.68" y="219.27" width="3" height="3" fill="#5C9C72"/>
<rect x="134.66" y="221.09" width="3" height="3" fill="#5C9C72"/>
<rect x="138.63" y="223.85" width="3" height="3" fill="#5C9C72"/>
<rect x="142.61" y="227.48" width="3" height="3" fill="#5C9C72"/>
<rect x="146.59" y="231.86" width="3" height="3" fill="#5C9C72"/>
<rect x="150.57" y="236.86" width="3" height="3" fill="#5C9C72"/>
<rect x="154.54" y="242.32" width="3" height="3" fill="#5C9C72"/>
<rect x="158.52" y="248.08" width="3" height="3" fill="#5C9C72"/>
<rect x="162.5" y="253.97" width="3" height="3" fill="#5C9C72"/>
<path d="M22.88 249.79 L26.68 249.79 L24.78 253.09 Z" fill="#36455C"/>
<path d="M26.86 249.06 L30.66 249.06 L28.76 252.36 Z" fill="#36455C"/>
<path d="M30.83 248.4 L34.63 248.4 L32.73 251.7 Z" fill="#36455C"/>
<path d="M34.81 247.83 L38.61 247.83 L36.71 251.13 Z" fill="#36455C"/>
<path d="M38.79 247.36 L42.59 247.36 L40.69 250.66 Z" fill="#36455C"/>
<path d="M42.77 247.02 L46.57 247.02 L44.67 250.32 Z" fill="#36455C"/>
<path d="M46.74 246.81 L50.54 246.81 L48.64 250.11 Z" fill="#36455C"/>
<path d="M50.72 246.74 L54.52 246.74 L52.62 250.04 Z" fill="#36455C"/>
<path d="M54.7 246.81 L58.5 246.81 L56.6 250.11 Z" fill="#36455C"/>
<path d="M58.68 247.02 L62.48 247.02 L60.58 250.32 Z" fill="#36455C"/>
<path d="M62.66 247.36 L66.46 247.36 L64.56 250.66 Z" fill="#36455C"/>
<path d="M66.63 247.83 L70.43 247.83 L68.53 251.13 Z" fill="#36455C"/>
<path d="M70.61 248.4 L74.41 248.4 L72.51 251.7 Z" fill="#36455C"/>
<path d="M74.59 249.06 L78.39 249.06 L76.49 252.36 Z" fill="#36455C"/>
<path d="M78.57 249.79 L82.37 249.79 L80.47 253.09 Z" fill="#36455C"/>
<path d="M82.54 250.57 L86.34 250.57 L84.44 253.87 Z" fill="#36455C"/>
<path d="M86.52 251.37 L90.32 251.37 L88.42 254.67 Z" fill="#36455C"/>
<path d="M90.5 252.18 L94.3 252.18 L92.4 255.48 Z" fill="#36455C"/>
<path d="M94.48 252.96 L98.28 252.96 L96.38 256.26 Z" fill="#36455C"/>
<path d="M98.46 253.69 L102.26 253.69 L100.36 256.99 Z" fill="#36455C"/>
<path d="M102.43 254.35 L106.23 254.35 L104.33 257.65 Z" fill="#36455C"/>
<path d="M106.41 254.92 L110.21 254.92 L108.31 258.22 Z" fill="#36455C"/>
<path d="M110.39 255.38 L114.19 255.38 L112.29 258.68 Z" fill="#36455C"/>
<path d="M114.37 255.72 L118.17 255.72 L116.27 259.02 Z" fill="#36455C"/>
<path d="M118.34 255.93 L122.14 255.93 L120.24 259.23 Z" fill="#36455C"/>
<path d="M122.32 256 L126.12 256 L124.22 259.3 Z" fill="#36455C"/>
<path d="M126.3 255.93 L130.1 255.93 L128.2 259.23 Z" fill="#36455C"/>
<path d="M130.28 255.72 L134.08 255.72 L132.18 259.02 Z" fill="#36455C"/>
<path d="M134.26 255.38 L138.06 255.38 L136.16 258.68 Z" fill="#36455C"/>
<path d="M138.23 254.92 L142.03 254.92 L140.13 258.22 Z" fill="#36455C"/>
<path d="M142.21 254.35 L146.01 254.35 L144.11 257.65 Z" fill="#36455C"/>
<path d="M146.19 253.69 L149.99 253.69 L148.09 256.99 Z" fill="#36455C"/>
<path d="M150.17 252.96 L153.97 252.96 L152.07 256.26 Z" fill="#36455C"/>
<path d="M154.14 252.18 L157.94 252.18 L156.04 255.48 Z" fill="#36455C"/>
<path d="M158.12 251.37 L161.92 251.37 L160.02 254.67 Z" fill="#36455C"/>
<path d="M162.1 250.57 L165.9 250.57 L164 253.87 Z" fill="#36455C"/>
<rect x="20.8" y="207.4" width="143.2" height="92.6" stroke="#7a7a7a" stroke-width="0.85" fill="none" />
<line x1="20.8" y1="300" x2="20.8" y2="301.8" stroke="#444" stroke-width="0.8" />
<line x1="44.67" y1="300" x2="44.67" y2="301.8" stroke="#444" stroke-width="0.8" />
<line x1="68.53" y1="300" x2="68.53" y2="301.8" stroke="#444" stroke-width="0.8" />
<line x1="92.4" y1="300" x2="92.4" y2="301.8" stroke="#444" stroke-width="0.8" />
<line x1="116.27" y1="300" x2="116.27" y2="301.8" stroke="#444" stroke-width="0.8" />
<line x1="140.13" y1="300" x2="140.13" y2="301.8" stroke="#444" stroke-width="0.8" />
<line x1="164" y1="300" x2="164" y2="301.8" stroke="#444" stroke-width="0.8" />
<line x1="19" y1="207.4" x2="20.8" y2="207.4" stroke="#444" stroke-width="0.8" />
<line x1="19" y1="230.55" x2="20.8" y2="230.55" stroke="#444" stroke-width="0.8" />
<line x1="19" y1="253.7" x2="20.8" y2="253.7" stroke="#444" stroke-width="0.8" />
<line x1="19" y1="276.85" x2="20.8" y2="276.85" stroke="#444" stroke-width="0.8" />
<line x1="19" y1="300" x2="20.8" y2="300" stroke="#444" stroke-width="0.8" />
<text x="5.33" y="210.3" font-size="8.2" font-family="Liberation Sans" fill="#000" textLength="12.31" lengthAdjust="spacingAndGlyphs" stroke="#000" stroke-width="0.1">1.0</text>
<text x="5.36" y="233.45" font-size="8.2" font-family="Liberation Sans" fill="#000" textLength="12.31" lengthAdjust="spacingAndGlyphs" stroke="#000" stroke-width="0.1">0.5</text>
<text x="5.33" y="256.6" font-size="8.2" font-family="Liberation Sans" fill="#000" textLength="12.31" lengthAdjust="spacingAndGlyphs" stroke="#000" stroke-width="0.1">0.0</text>
<text x="0.19" y="279.75" font-size="8.2" font-family="Liberation Sans" fill="#000" textLength="17.48" lengthAdjust="spacingAndGlyphs" stroke="#000" stroke-width="0.1">−0.5</text>
<text x="0.16" y="302.9" font-size="8.2" font-family="Liberation Sans" fill="#000" textLength="17.48" lengthAdjust="spacingAndGlyphs" stroke="#000" stroke-width="0.1">−1.0</text>
<text x="15.13" y="309" font-size="8.4" font-family="Liberation Sans" textLength="10.79" lengthAdjust="spacingAndGlyphs" stroke="#000" stroke-width="0.1"><tspan>−</tspan><tspan font-style="italic">π</tspan></text>
<text x="33.09" y="309" font-size="8.4" font-family="Liberation Sans" textLength="23.12" lengthAdjust="spacingAndGlyphs" stroke="#000" stroke-width="0.1"><tspan>−2</tspan><tspan font-style="italic">π</tspan><tspan>/3</tspan></text>
<text x="59.25" y="309" font-size="8.4" font-family="Liberation Sans" textLength="18.53" lengthAdjust="spacingAndGlyphs" stroke="#000" stroke-width="0.1"><tspan>−</tspan><tspan font-style="italic">π</tspan><tspan>/3</tspan></text>
<text x="89.72" y="309" font-size="8.4" font-family="Liberation Sans" textLength="5.35" lengthAdjust="spacingAndGlyphs" stroke="#000" stroke-width="0.1"><tspan>0</tspan></text>
<text x="109.73" y="309" font-size="8.4" font-family="Liberation Sans" textLength="13.07" lengthAdjust="spacingAndGlyphs" stroke="#000" stroke-width="0.1"><tspan font-style="italic">π</tspan><tspan>/3</tspan></text>
<text x="131.36" y="309" font-size="8.4" font-family="Liberation Sans" textLength="17.5" lengthAdjust="spacingAndGlyphs" stroke="#000" stroke-width="0.1"><tspan>2</tspan><tspan font-style="italic">π</tspan><tspan>/3</tspan></text>
<text x="161.04" y="309" font-size="8.4" font-family="Liberation Sans" textLength="5.44" lengthAdjust="spacingAndGlyphs" stroke="#000" stroke-width="0.1"><tspan font-style="italic">π</tspan></text>
<text x="53.22" y="295.6" font-size="8.9" font-family="Liberation Sans" fill="#000" textLength="93.5" lengthAdjust="spacingAndGlyphs" stroke="#000" stroke-width="0.1">average fidelity 89.00%</text>
<text x="41.71" y="319" font-size="9.5" font-family="Liberation Sans" fill="#000" textLength="81.67" lengthAdjust="spacingAndGlyphs" stroke="#000" stroke-width="0.1">Rotation angle of</text>
<line x1="127.4" y1="312.4" x2="127.4" y2="321.9" stroke="#000" stroke-width="0.8" />
<text x="128.37" y="318.6" font-size="9" font-family="Liberation Sans" font-style="italic" fill="#000" textLength="4.7" lengthAdjust="spacingAndGlyphs" stroke="#000" stroke-width="0.1">θ</text>
<text x="134.84" y="315.5" font-size="6.2" font-family="Liberation Sans" font-style="italic" fill="#000" textLength="3.45" lengthAdjust="spacingAndGlyphs" stroke="#000" stroke-width="0.1">z</text>
<text x="135.12" y="322" font-size="5.6" font-family="Liberation Sans" fill="#000" textLength="3.28" lengthAdjust="spacingAndGlyphs" stroke="#000" stroke-width="0.1">L</text>
<path d="M139.5 312.9 L142.1 316.6 L139.5 320.3" fill="none" stroke="#111" stroke-width="0.9" stroke-linejoin="miter"/>
<text x="180.02" y="176.5" font-size="12.2" font-family="Liberation Sans" font-weight="bold" fill="#000" >e</text>
<path d="M228.6 169.2 L227.2 172.5 L228.6 175.8" fill="none" stroke="#222" stroke-width="0.8"/>
<text x="228.9" y="174.8" font-size="8.3" font-family="Liberation Sans" font-style="italic" fill="#000" textLength="5.16" lengthAdjust="spacingAndGlyphs" stroke="#000" stroke-width="0.1">X</text>
<text x="234.25" y="176.4" font-size="5.7" font-family="Liberation Sans" fill="#000" textLength="2.4" lengthAdjust="spacingAndGlyphs" stroke="#000" stroke-width="0.1">L</text>
<path d="M238.6 169.2 L240.1 172.5 L238.6 175.8" fill="none" stroke="#222" stroke-width="0.8" stroke-linejoin="miter"/>
<path d="M253.7 169.2 L252.3 172.5 L253.7 175.8" fill="none" stroke="#222" stroke-width="0.8"/>
<text x="252.92" y="174.8" font-size="8.3" font-family="Liberation Sans" font-style="italic" fill="#000" textLength="5.94" lengthAdjust="spacingAndGlyphs" stroke="#000" stroke-width="0.1">Y</text>
<text x="259.35" y="176.4" font-size="5.7" font-family="Liberation Sans" fill="#000" textLength="2.4" lengthAdjust="spacingAndGlyphs" stroke="#000" stroke-width="0.1">L</text>
<path d="M263.7 169.2 L265.2 172.5 L263.7 175.8" fill="none" stroke="#222" stroke-width="0.8" stroke-linejoin="miter"/>
<path d="M278.9 169.2 L277.5 172.5 L278.9 175.8" fill="none" stroke="#222" stroke-width="0.8"/>
<text x="279.21" y="174.8" font-size="8.3" font-family="Liberation Sans" font-style="italic" fill="#000" textLength="5.15" lengthAdjust="spacingAndGlyphs" stroke="#000" stroke-width="0.1">Z</text>
<text x="284.55" y="176.4" font-size="5.7" font-family="Liberation Sans" fill="#000" textLength="2.4" lengthAdjust="spacingAndGlyphs" stroke="#000" stroke-width="0.1">L</text>
<path d="M288.9 169.2 L290.4 172.5 L288.9 175.8" fill="none" stroke="#222" stroke-width="0.8" stroke-linejoin="miter"/>
<text x="301.36" y="176.1" font-size="8.9" font-family="Liberation Sans" fill="#000" textLength="28.76" lengthAdjust="spacingAndGlyphs" stroke="#000" stroke-width="0.1">Fidelity</text>
<text x="202.93" y="188.6" font-size="8.9" font-family="Liberation Sans" fill="#000" textLength="13.93" lengthAdjust="spacingAndGlyphs" stroke="#000" stroke-width="0.1">exp</text>
<text x="203.05" y="199.9" font-size="8.9" font-family="Liberation Sans" fill="#000" textLength="13.73" lengthAdjust="spacingAndGlyphs" stroke="#000" stroke-width="0.1">sim</text>
<circle cx="234.1" cy="185.6" r="1.6" fill="#4280BA"/>
<rect x="257.7" y="184.1" width="3" height="3" fill="#5C9C72"/>
<path d="M282.5 183.9 L286.3 183.9 L284.4 187.2 Z" fill="#36455C"/>
<path d="M314.8 184.3 L317.4 186.9 M314.8 186.9 L317.4 184.3" stroke="#BD4F5A" stroke-width="1.0" fill="none"/>
<line x1="226.25" y1="197.3" x2="242.25" y2="197.3" stroke="#4280BA" stroke-width="0.8" />
<line x1="251.15" y1="197.3" x2="267.15" y2="197.3" stroke="#5C9C72" stroke-width="0.8" />
<line x1="277.75" y1="197.3" x2="293.75" y2="197.3" stroke="#36455C" stroke-width="0.8" />
<line x1="309.15" y1="197.3" x2="325.15" y2="197.3" stroke="#BD4F5A" stroke-width="0.8" />
<line x1="217.4" y1="206.5" x2="217.4" y2="299.3" stroke="#bdbdbd" stroke-width="0.65" stroke-dasharray="1.1 0.9"/>
<line x1="241.2" y1="206.5" x2="241.2" y2="299.3" stroke="#bdbdbd" stroke-width="0.65" stroke-dasharray="1.1 0.9"/>
<line x1="265" y1="206.5" x2="265" y2="299.3" stroke="#bdbdbd" stroke-width="0.65" stroke-dasharray="1.1 0.9"/>
<line x1="288.8" y1="206.5" x2="288.8" y2="299.3" stroke="#bdbdbd" stroke-width="0.65" stroke-dasharray="1.1 0.9"/>
<line x1="312.6" y1="206.5" x2="312.6" y2="299.3" stroke="#bdbdbd" stroke-width="0.65" stroke-dasharray="1.1 0.9"/>
<line x1="193.6" y1="229.7" x2="336.4" y2="229.7" stroke="#bdbdbd" stroke-width="0.65" stroke-dasharray="1.1 0.9"/>
<line x1="193.6" y1="252.9" x2="336.4" y2="252.9" stroke="#bdbdbd" stroke-width="0.65" stroke-dasharray="1.1 0.9"/>
<line x1="193.6" y1="276.1" x2="336.4" y2="276.1" stroke="#bdbdbd" stroke-width="0.65" stroke-dasharray="1.1 0.9"/>
<path d="M197.57 208.64 L198.43 208.67 L199.3 208.7 L200.17 208.74 L201.04 208.78 L201.91 208.83 L202.77 208.87 L203.64 208.93 L204.51 208.98 L205.38 209.04 L206.24 209.11 L207.11 209.17 L207.98 209.24 L208.85 209.31 L209.71 209.37 L210.58 209.45 L211.45 209.52 L212.32 209.59 L213.19 209.66 L214.05 209.73 L214.92 209.8 L215.79 209.86 L216.66 209.93 L217.52 209.99 L218.39 210.05 L219.26 210.1 L220.13 210.16 L220.99 210.21 L221.86 210.25 L222.73 210.29 L223.6 210.33 L224.47 210.36 L225.33 210.39 L226.2 210.41 L227.07 210.43 L227.94 210.44 L228.8 210.44 L229.67 210.44 L230.54 210.44 L231.41 210.43 L232.27 210.41 L233.14 210.39 L234.01 210.37 L234.88 210.33 L235.75 210.3 L236.61 210.26 L237.48 210.21 L238.35 210.16 L239.22 210.11 L240.08 210.06 L240.95 210 L241.82 209.94 L242.69 209.87 L243.56 209.8 L244.42 209.74 L245.29 209.67 L246.16 209.6 L247.03 209.53 L247.89 209.46 L248.76 209.38 L249.63 209.32 L250.5 209.25 L251.36 209.18 L252.23 209.11 L253.1 209.05 L253.97 208.99 L254.84 208.94 L255.7 208.88 L256.57 208.83 L257.44 208.79 L258.31 208.74 L259.17 208.71 L260.04 208.67 L260.91 208.65 L261.78 208.63 L262.64 208.61 L263.51 208.6 L264.38 208.59 L265.25 208.59 L266.12 208.59 L266.98 208.6 L267.85 208.62 L268.72 208.64 L269.59 208.66 L270.45 208.69 L271.32 208.73 L272.19 208.77 L273.06 208.81 L273.92 208.86 L274.79 208.91 L275.66 208.97 L276.53 209.03 L277.4 209.09 L278.26 209.15 L279.13 209.22 L280 209.29 L280.87 209.35 L281.73 209.43 L282.6 209.5 L283.47 209.57 L284.34 209.64 L285.21 209.71 L286.07 209.78 L286.94 209.84 L287.81 209.91 L288.68 209.97 L289.54 210.03 L290.41 210.09 L291.28 210.14 L292.15 210.19 L293.01 210.24 L293.88 210.28 L294.75 210.32 L295.62 210.35 L296.49 210.38 L297.35 210.4 L298.22 210.42 L299.09 210.43 L299.96 210.44 L300.82 210.44 L301.69 210.44 L302.56 210.43 L303.43 210.42 L304.29 210.4 L305.16 210.37 L306.03 210.34 L306.9 210.31 L307.77 210.27 L308.63 210.23 L309.5 210.18 L310.37 210.13 L311.24 210.07 L312.1 210.01 L312.97 209.95 L313.84 209.89 L314.71 209.82 L315.57 209.76 L316.44 209.69 L317.31 209.62 L318.18 209.55 L319.05 209.48 L319.91 209.4 L320.78 209.33 L321.65 209.27 L322.52 209.2 L323.38 209.13 L324.25 209.07 L325.12 209.01 L325.99 208.95 L326.86 208.9 L327.72 208.85 L328.59 208.8 L329.46 208.76 L330.33 208.72 L331.19 208.68 L332.06 208.65 L332.93 208.63 L333.8 208.61 L334.66 208.6 L335.53 208.59 L336.4 208.59" fill="none" stroke="#BD4F5A" stroke-width="0.9"/>
<path d="M197.57 252.9 L198.43 252.9 L199.3 252.9 L200.17 252.9 L201.04 252.9 L201.91 252.9 L202.77 252.9 L203.64 252.9 L204.51 252.9 L205.38 252.9 L206.24 252.9 L207.11 252.9 L207.98 252.9 L208.85 252.9 L209.71 252.9 L210.58 252.9 L211.45 252.9 L212.32 252.9 L213.19 252.9 L214.05 252.9 L214.92 252.9 L215.79 252.9 L216.66 252.9 L217.52 252.9 L218.39 252.9 L219.26 252.9 L220.13 252.9 L220.99 252.9 L221.86 252.9 L222.73 252.9 L223.6 252.9 L224.47 252.9 L225.33 252.9 L226.2 252.9 L227.07 252.9 L227.94 252.9 L228.8 252.9 L229.67 252.9 L230.54 252.9 L231.41 252.9 L232.27 252.9 L233.14 252.9 L234.01 252.9 L234.88 252.9 L235.75 252.9 L236.61 252.9 L237.48 252.9 L238.35 252.9 L239.22 252.9 L240.08 252.9 L240.95 252.9 L241.82 252.9 L242.69 252.9 L243.56 252.9 L244.42 252.9 L245.29 252.9 L246.16 252.9 L247.03 252.9 L247.89 252.9 L248.76 252.9 L249.63 252.9 L250.5 252.9 L251.36 252.9 L252.23 252.9 L253.1 252.9 L253.97 252.9 L254.84 252.9 L255.7 252.9 L256.57 252.9 L257.44 252.9 L258.31 252.9 L259.17 252.9 L260.04 252.9 L260.91 252.9 L261.78 252.9 L262.64 252.9 L263.51 252.9 L264.38 252.9 L265.25 252.9 L266.12 252.9 L266.98 252.9 L267.85 252.9 L268.72 252.9 L269.59 252.9 L270.45 252.9 L271.32 252.9 L272.19 252.9 L273.06 252.9 L273.92 252.9 L274.79 252.9 L275.66 252.9 L276.53 252.9 L277.4 252.9 L278.26 252.9 L279.13 252.9 L280 252.9 L280.87 252.9 L281.73 252.9 L282.6 252.9 L283.47 252.9 L284.34 252.9 L285.21 252.9 L286.07 252.9 L286.94 252.9 L287.81 252.9 L288.68 252.9 L289.54 252.9 L290.41 252.9 L291.28 252.9 L292.15 252.9 L293.01 252.9 L293.88 252.9 L294.75 252.9 L295.62 252.9 L296.49 252.9 L297.35 252.9 L298.22 252.9 L299.09 252.9 L299.96 252.9 L300.82 252.9 L301.69 252.9 L302.56 252.9 L303.43 252.9 L304.29 252.9 L305.16 252.9 L306.03 252.9 L306.9 252.9 L307.77 252.9 L308.63 252.9 L309.5 252.9 L310.37 252.9 L311.24 252.9 L312.1 252.9 L312.97 252.9 L313.84 252.9 L314.71 252.9 L315.57 252.9 L316.44 252.9 L317.31 252.9 L318.18 252.9 L319.05 252.9 L319.91 252.9 L320.78 252.9 L321.65 252.9 L322.52 252.9 L323.38 252.9 L324.25 252.9 L325.12 252.9 L325.99 252.9 L326.86 252.9 L327.72 252.9 L328.59 252.9 L329.46 252.9 L330.33 252.9 L331.19 252.9 L332.06 252.9 L332.93 252.9 L333.8 252.9 L334.66 252.9 L335.53 252.9 L336.4 252.9" fill="none" stroke="#4280BA" stroke-width="0.9"/>
<path d="M197.57 258.54 L198.43 259.76 L199.3 260.96 L200.17 262.16 L201.04 263.34 L201.91 264.51 L202.77 265.66 L203.64 266.79 L204.51 267.9 L205.38 268.99 L206.24 270.05 L207.11 271.09 L207.98 272.11 L208.85 273.09 L209.71 274.05 L210.58 274.97 L211.45 275.87 L212.32 276.73 L213.19 277.55 L214.05 278.34 L214.92 279.09 L215.79 279.81 L216.66 280.48 L217.52 281.12 L218.39 281.71 L219.26 282.26 L220.13 282.77 L220.99 283.24 L221.86 283.66 L222.73 284.03 L223.6 284.36 L224.47 284.65 L225.33 284.89 L226.2 285.08 L227.07 285.22 L227.94 285.32 L228.8 285.37 L229.67 285.38 L230.54 285.33 L231.41 285.24 L232.27 285.1 L233.14 284.92 L234.01 284.68 L234.88 284.41 L235.75 284.08 L236.61 283.71 L237.48 283.3 L238.35 282.84 L239.22 282.34 L240.08 281.79 L240.95 281.2 L241.82 280.58 L242.69 279.91 L243.56 279.2 L244.42 278.45 L245.29 277.67 L246.16 276.85 L247.03 275.99 L247.89 275.1 L248.76 274.18 L249.63 273.23 L250.5 272.25 L251.36 271.24 L252.23 270.2 L253.1 269.14 L253.97 268.05 L254.84 266.95 L255.7 265.82 L256.57 264.67 L257.44 263.51 L258.31 262.33 L259.17 261.14 L260.04 259.93 L260.91 258.71 L261.78 257.49 L262.64 256.26 L263.51 255.02 L264.38 253.79 L265.25 252.55 L266.12 251.31 L266.98 250.07 L267.85 248.84 L268.72 247.61 L269.59 246.39 L270.45 245.18 L271.32 243.98 L272.19 242.8 L273.06 241.62 L273.92 240.47 L274.79 239.33 L275.66 238.22 L276.53 237.12 L277.4 236.05 L278.26 235 L279.13 233.98 L280 232.99 L280.87 232.02 L281.73 231.09 L282.6 230.19 L283.47 229.32 L284.34 228.48 L285.21 227.68 L286.07 226.92 L286.94 226.19 L287.81 225.51 L288.68 224.86 L289.54 224.26 L290.41 223.69 L291.28 223.17 L292.15 222.69 L293.01 222.26 L293.88 221.87 L294.75 221.53 L295.62 221.23 L296.49 220.98 L297.35 220.77 L298.22 220.61 L299.09 220.5 L299.96 220.44 L300.82 220.42 L301.69 220.45 L302.56 220.53 L303.43 220.65 L304.29 220.83 L305.16 221.04 L306.03 221.31 L306.9 221.62 L307.77 221.98 L308.63 222.38 L309.5 222.83 L310.37 223.32 L311.24 223.85 L312.1 224.42 L312.97 225.04 L313.84 225.7 L314.71 226.4 L315.57 227.13 L316.44 227.91 L317.31 228.72 L318.18 229.56 L319.05 230.44 L319.91 231.35 L320.78 232.29 L321.65 233.27 L322.52 234.27 L323.38 235.3 L324.25 236.35 L325.12 237.43 L325.99 238.53 L326.86 239.66 L327.72 240.8 L328.59 241.96 L329.46 243.13 L330.33 244.32 L331.19 245.52 L332.06 246.74 L332.93 247.96 L333.8 249.19 L334.66 250.42 L335.53 251.66 L336.4 252.9" fill="none" stroke="#5C9C72" stroke-width="0.9"/>
<path d="M197.57 293.57 L198.43 293.27 L199.3 292.9 L200.17 292.48 L201.04 292 L201.91 291.47 L202.77 290.88 L203.64 290.23 L204.51 289.53 L205.38 288.78 L206.24 287.97 L207.11 287.11 L207.98 286.2 L208.85 285.25 L209.71 284.24 L210.58 283.19 L211.45 282.1 L212.32 280.96 L213.19 279.79 L214.05 278.57 L214.92 277.32 L215.79 276.03 L216.66 274.71 L217.52 273.35 L218.39 271.97 L219.26 270.56 L220.13 269.12 L220.99 267.66 L221.86 266.17 L222.73 264.67 L223.6 263.15 L224.47 261.62 L225.33 260.07 L226.2 258.51 L227.07 256.95 L227.94 255.38 L228.8 253.8 L229.67 252.22 L230.54 250.65 L231.41 249.08 L232.27 247.51 L233.14 245.95 L234.01 244.4 L234.88 242.87 L235.75 241.34 L236.61 239.84 L237.48 238.35 L238.35 236.89 L239.22 235.45 L240.08 234.03 L240.95 232.64 L241.82 231.28 L242.69 229.96 L243.56 228.66 L244.42 227.4 L245.29 226.18 L246.16 225 L247.03 223.86 L247.89 222.76 L248.76 221.7 L249.63 220.69 L250.5 219.73 L251.36 218.82 L252.23 217.95 L253.1 217.14 L253.97 216.37 L254.84 215.67 L255.7 215.01 L256.57 214.41 L257.44 213.87 L258.31 213.38 L259.17 212.95 L260.04 212.58 L260.91 212.27 L261.78 212.02 L262.64 211.83 L263.51 211.69 L264.38 211.62 L265.25 211.61 L266.12 211.65 L266.98 211.76 L267.85 211.93 L268.72 212.16 L269.59 212.44 L270.45 212.79 L271.32 213.19 L272.19 213.65 L273.06 214.17 L273.92 214.75 L274.79 215.38 L275.66 216.06 L276.53 216.8 L277.4 217.6 L278.26 218.44 L279.13 219.33 L280 220.28 L280.87 221.27 L281.73 222.3 L282.6 223.38 L283.47 224.51 L284.34 225.67 L285.21 226.88 L286.07 228.12 L286.94 229.4 L287.81 230.71 L288.68 232.06 L289.54 233.43 L290.41 234.84 L291.28 236.27 L292.15 237.72 L293.01 239.2 L293.88 240.7 L294.75 242.21 L295.62 243.74 L296.49 245.29 L297.35 246.84 L298.22 248.4 L299.09 249.97 L299.96 251.55 L300.82 253.13 L301.69 254.7 L302.56 256.27 L303.43 257.84 L304.29 259.4 L305.16 260.96 L306.03 262.5 L306.9 264.02 L307.77 265.53 L308.63 267.02 L309.5 268.49 L310.37 269.94 L311.24 271.37 L312.1 272.76 L312.97 274.13 L313.84 275.47 L314.71 276.77 L315.57 278.04 L316.44 279.27 L317.31 280.47 L318.18 281.62 L319.05 282.73 L319.91 283.8 L320.78 284.82 L321.65 285.8 L322.52 286.73 L323.38 287.61 L324.25 288.44 L325.12 289.21 L325.99 289.94 L326.86 290.61 L327.72 291.22 L328.59 291.78 L329.46 292.28 L330.33 292.73 L331.19 293.12 L332.06 293.45 L332.93 293.72 L333.8 293.93 L334.66 294.08 L335.53 294.17 L336.4 294.2" fill="none" stroke="#36455C" stroke-width="0.9"/>
<path d="M196.27 208.53 L198.87 211.13 M196.27 211.13 L198.87 208.53" stroke="#BD4F5A" stroke-width="1.0" fill="none"/>
<path d="M200.23 208.77 L202.83 211.37 M200.23 211.37 L202.83 208.77" stroke="#BD4F5A" stroke-width="1.0" fill="none"/>
<path d="M204.2 209.14 L206.8 211.74 M204.2 211.74 L206.8 209.14" stroke="#BD4F5A" stroke-width="1.0" fill="none"/>
<path d="M208.17 209.6 L210.77 212.2 M208.17 212.2 L210.77 209.6" stroke="#BD4F5A" stroke-width="1.0" fill="none"/>
<path d="M212.13 210.08 L214.73 212.68 M212.13 212.68 L214.73 210.08" stroke="#BD4F5A" stroke-width="1.0" fill="none"/>
<path d="M216.1 210.54 L218.7 213.14 M216.1 213.14 L218.7 210.54" stroke="#BD4F5A" stroke-width="1.0" fill="none"/>
<path d="M220.07 210.91 L222.67 213.51 M220.07 213.51 L222.67 210.91" stroke="#BD4F5A" stroke-width="1.0" fill="none"/>
<path d="M224.03 211.15 L226.63 213.75 M224.03 213.75 L226.63 211.15" stroke="#BD4F5A" stroke-width="1.0" fill="none"/>
<path d="M228 211.23 L230.6 213.83 M228 213.83 L230.6 211.23" stroke="#BD4F5A" stroke-width="1.0" fill="none"/>
<path d="M231.97 211.15 L234.57 213.75 M231.97 213.75 L234.57 211.15" stroke="#BD4F5A" stroke-width="1.0" fill="none"/>
<path d="M235.93 210.91 L238.53 213.51 M235.93 213.51 L238.53 210.91" stroke="#BD4F5A" stroke-width="1.0" fill="none"/>
<path d="M239.9 210.54 L242.5 213.14 M239.9 213.14 L242.5 210.54" stroke="#BD4F5A" stroke-width="1.0" fill="none"/>
<path d="M243.87 210.08 L246.47 212.68 M243.87 212.68 L246.47 210.08" stroke="#BD4F5A" stroke-width="1.0" fill="none"/>
<path d="M247.83 209.6 L250.43 212.2 M247.83 212.2 L250.43 209.6" stroke="#BD4F5A" stroke-width="1.0" fill="none"/>
<path d="M251.8 209.14 L254.4 211.74 M251.8 211.74 L254.4 209.14" stroke="#BD4F5A" stroke-width="1.0" fill="none"/>
<path d="M255.77 208.77 L258.37 211.37 M255.77 211.37 L258.37 208.77" stroke="#BD4F5A" stroke-width="1.0" fill="none"/>
<path d="M259.73 208.53 L262.33 211.13 M259.73 211.13 L262.33 208.53" stroke="#BD4F5A" stroke-width="1.0" fill="none"/>
<path d="M263.7 208.45 L266.3 211.05 M263.7 211.05 L266.3 208.45" stroke="#BD4F5A" stroke-width="1.0" fill="none"/>
<path d="M267.67 208.53 L270.27 211.13 M267.67 211.13 L270.27 208.53" stroke="#BD4F5A" stroke-width="1.0" fill="none"/>
<path d="M271.63 208.77 L274.23 211.37 M271.63 211.37 L274.23 208.77" stroke="#BD4F5A" stroke-width="1.0" fill="none"/>
<path d="M275.6 209.14 L278.2 211.74 M275.6 211.74 L278.2 209.14" stroke="#BD4F5A" stroke-width="1.0" fill="none"/>
<path d="M279.57 209.6 L282.17 212.2 M279.57 212.2 L282.17 209.6" stroke="#BD4F5A" stroke-width="1.0" fill="none"/>
<path d="M283.53 210.08 L286.13 212.68 M283.53 212.68 L286.13 210.08" stroke="#BD4F5A" stroke-width="1.0" fill="none"/>
<path d="M287.5 210.54 L290.1 213.14 M287.5 213.14 L290.1 210.54" stroke="#BD4F5A" stroke-width="1.0" fill="none"/>
<path d="M291.47 210.91 L294.07 213.51 M291.47 213.51 L294.07 210.91" stroke="#BD4F5A" stroke-width="1.0" fill="none"/>
<path d="M295.43 211.15 L298.03 213.75 M295.43 213.75 L298.03 211.15" stroke="#BD4F5A" stroke-width="1.0" fill="none"/>
<path d="M299.4 211.23 L302 213.83 M299.4 213.83 L302 211.23" stroke="#BD4F5A" stroke-width="1.0" fill="none"/>
<path d="M303.37 211.15 L305.97 213.75 M303.37 213.75 L305.97 211.15" stroke="#BD4F5A" stroke-width="1.0" fill="none"/>
<path d="M307.33 210.91 L309.93 213.51 M307.33 213.51 L309.93 210.91" stroke="#BD4F5A" stroke-width="1.0" fill="none"/>
<path d="M311.3 210.54 L313.9 213.14 M311.3 213.14 L313.9 210.54" stroke="#BD4F5A" stroke-width="1.0" fill="none"/>
<path d="M315.27 210.08 L317.87 212.68 M315.27 212.68 L317.87 210.08" stroke="#BD4F5A" stroke-width="1.0" fill="none"/>
<path d="M319.23 209.6 L321.83 212.2 M319.23 212.2 L321.83 209.6" stroke="#BD4F5A" stroke-width="1.0" fill="none"/>
<path d="M323.2 209.14 L325.8 211.74 M323.2 211.74 L325.8 209.14" stroke="#BD4F5A" stroke-width="1.0" fill="none"/>
<path d="M327.17 208.77 L329.77 211.37 M327.17 211.37 L329.77 208.77" stroke="#BD4F5A" stroke-width="1.0" fill="none"/>
<path d="M331.13 208.53 L333.73 211.13 M331.13 211.13 L333.73 208.53" stroke="#BD4F5A" stroke-width="1.0" fill="none"/>
<path d="M335.1 208.45 L337.7 211.05 M335.1 211.05 L337.7 208.45" stroke="#BD4F5A" stroke-width="1.0" fill="none"/>
<circle cx="197.57" cy="251.8" r="1.6" fill="#4280BA"/>
<circle cx="201.53" cy="251.63" r="1.6" fill="#4280BA"/>
<circle cx="205.5" cy="251" r="1.6" fill="#4280BA"/>
<circle cx="209.47" cy="250.73" r="1.6" fill="#4280BA"/>
<circle cx="213.43" cy="251.18" r="1.6" fill="#4280BA"/>
<circle cx="217.4" cy="251.76" r="1.6" fill="#4280BA"/>
<circle cx="221.37" cy="251.7" r="1.6" fill="#4280BA"/>
<circle cx="225.33" cy="251.09" r="1.6" fill="#4280BA"/>
<circle cx="229.3" cy="250.72" r="1.6" fill="#4280BA"/>
<circle cx="233.27" cy="251.09" r="1.6" fill="#4280BA"/>
<circle cx="237.23" cy="251.7" r="1.6" fill="#4280BA"/>
<circle cx="241.2" cy="251.76" r="1.6" fill="#4280BA"/>
<circle cx="245.17" cy="251.18" r="1.6" fill="#4280BA"/>
<circle cx="249.13" cy="250.73" r="1.6" fill="#4280BA"/>
<circle cx="253.1" cy="251" r="1.6" fill="#4280BA"/>
<circle cx="257.07" cy="251.63" r="1.6" fill="#4280BA"/>
<circle cx="261.03" cy="251.8" r="1.6" fill="#4280BA"/>
<circle cx="265" cy="251.28" r="1.6" fill="#4280BA"/>
<circle cx="268.97" cy="250.75" r="1.6" fill="#4280BA"/>
<circle cx="272.93" cy="250.92" r="1.6" fill="#4280BA"/>
<circle cx="276.9" cy="251.55" r="1.6" fill="#4280BA"/>
<circle cx="280.87" cy="251.82" r="1.6" fill="#4280BA"/>
<circle cx="284.83" cy="251.37" r="1.6" fill="#4280BA"/>
<circle cx="288.8" cy="250.79" r="1.6" fill="#4280BA"/>
<circle cx="292.77" cy="250.85" r="1.6" fill="#4280BA"/>
<circle cx="296.73" cy="251.47" r="1.6" fill="#4280BA"/>
<circle cx="300.7" cy="251.83" r="1.6" fill="#4280BA"/>
<circle cx="304.67" cy="251.47" r="1.6" fill="#4280BA"/>
<circle cx="308.63" cy="250.85" r="1.6" fill="#4280BA"/>
<circle cx="312.6" cy="250.79" r="1.6" fill="#4280BA"/>
<circle cx="316.57" cy="251.37" r="1.6" fill="#4280BA"/>
<circle cx="320.53" cy="251.82" r="1.6" fill="#4280BA"/>
<circle cx="324.5" cy="251.55" r="1.6" fill="#4280BA"/>
<circle cx="328.47" cy="250.92" r="1.6" fill="#4280BA"/>
<circle cx="332.43" cy="250.75" r="1.6" fill="#4280BA"/>
<circle cx="336.4" cy="251.28" r="1.6" fill="#4280BA"/>
<rect x="196.07" y="262.98" width="3" height="3" fill="#5C9C72"/>
<rect x="200.03" y="268.34" width="3" height="3" fill="#5C9C72"/>
<rect x="204" y="273.17" width="3" height="3" fill="#5C9C72"/>
<rect x="207.97" y="277.35" width="3" height="3" fill="#5C9C72"/>
<rect x="211.93" y="280.73" width="3" height="3" fill="#5C9C72"/>
<rect x="215.9" y="283.23" width="3" height="3" fill="#5C9C72"/>
<rect x="219.87" y="284.76" width="3" height="3" fill="#5C9C72"/>
<rect x="223.83" y="285.27" width="3" height="3" fill="#5C9C72"/>
<rect x="227.8" y="284.76" width="3" height="3" fill="#5C9C72"/>
<rect x="231.77" y="283.23" width="3" height="3" fill="#5C9C72"/>
<rect x="235.73" y="280.73" width="3" height="3" fill="#5C9C72"/>
<rect x="239.7" y="277.35" width="3" height="3" fill="#5C9C72"/>
<rect x="243.67" y="273.17" width="3" height="3" fill="#5C9C72"/>
<rect x="247.63" y="268.34" width="3" height="3" fill="#5C9C72"/>
<rect x="251.6" y="262.98" width="3" height="3" fill="#5C9C72"/>
<rect x="255.57" y="257.28" width="3" height="3" fill="#5C9C72"/>
<rect x="259.53" y="251.4" width="3" height="3" fill="#5C9C72"/>
<rect x="263.5" y="245.52" width="3" height="3" fill="#5C9C72"/>
<rect x="267.47" y="239.82" width="3" height="3" fill="#5C9C72"/>
<rect x="271.43" y="234.46" width="3" height="3" fill="#5C9C72"/>
<rect x="275.4" y="229.63" width="3" height="3" fill="#5C9C72"/>
<rect x="279.37" y="225.45" width="3" height="3" fill="#5C9C72"/>
<rect x="283.33" y="222.07" width="3" height="3" fill="#5C9C72"/>
<rect x="287.3" y="219.57" width="3" height="3" fill="#5C9C72"/>
<rect x="291.27" y="218.04" width="3" height="3" fill="#5C9C72"/>
<rect x="295.23" y="217.53" width="3" height="3" fill="#5C9C72"/>
<rect x="299.2" y="218.04" width="3" height="3" fill="#5C9C72"/>
<rect x="303.17" y="219.57" width="3" height="3" fill="#5C9C72"/>
<rect x="307.13" y="222.07" width="3" height="3" fill="#5C9C72"/>
<rect x="311.1" y="225.45" width="3" height="3" fill="#5C9C72"/>
<rect x="315.07" y="229.63" width="3" height="3" fill="#5C9C72"/>
<rect x="319.03" y="234.46" width="3" height="3" fill="#5C9C72"/>
<rect x="323" y="239.82" width="3" height="3" fill="#5C9C72"/>
<rect x="326.97" y="245.52" width="3" height="3" fill="#5C9C72"/>
<rect x="330.93" y="251.4" width="3" height="3" fill="#5C9C72"/>
<rect x="334.9" y="257.28" width="3" height="3" fill="#5C9C72"/>
<path d="M195.67 288.57 L199.47 288.57 L197.57 291.87 Z" fill="#36455C"/>
<path d="M199.63 285.91 L203.43 285.91 L201.53 289.21 Z" fill="#36455C"/>
<path d="M203.6 282.21 L207.4 282.21 L205.5 285.51 Z" fill="#36455C"/>
<path d="M207.57 277.58 L211.37 277.58 L209.47 280.88 Z" fill="#36455C"/>
<path d="M211.53 272.15 L215.33 272.15 L213.43 275.45 Z" fill="#36455C"/>
<path d="M215.5 266.1 L219.3 266.1 L217.4 269.4 Z" fill="#36455C"/>
<path d="M219.47 259.6 L223.27 259.6 L221.37 262.9 Z" fill="#36455C"/>
<path d="M223.43 252.86 L227.23 252.86 L225.33 256.16 Z" fill="#36455C"/>
<path d="M227.4 246.08 L231.2 246.08 L229.3 249.38 Z" fill="#36455C"/>
<path d="M231.37 239.46 L235.17 239.46 L233.27 242.76 Z" fill="#36455C"/>
<path d="M235.33 233.2 L239.13 233.2 L237.23 236.5 Z" fill="#36455C"/>
<path d="M239.3 227.5 L243.1 227.5 L241.2 230.8 Z" fill="#36455C"/>
<path d="M243.27 222.54 L247.07 222.54 L245.17 225.84 Z" fill="#36455C"/>
<path d="M247.23 218.45 L251.03 218.45 L249.13 221.75 Z" fill="#36455C"/>
<path d="M251.2 215.36 L255 215.36 L253.1 218.66 Z" fill="#36455C"/>
<path d="M255.17 213.38 L258.97 213.38 L257.07 216.68 Z" fill="#36455C"/>
<path d="M259.13 212.55 L262.93 212.55 L261.03 215.85 Z" fill="#36455C"/>
<path d="M263.1 212.9 L266.9 212.9 L265 216.2 Z" fill="#36455C"/>
<path d="M267.07 214.43 L270.87 214.43 L268.97 217.73 Z" fill="#36455C"/>
<path d="M271.03 217.09 L274.83 217.09 L272.93 220.39 Z" fill="#36455C"/>
<path d="M275 220.79 L278.8 220.79 L276.9 224.09 Z" fill="#36455C"/>
<path d="M278.97 225.42 L282.77 225.42 L280.87 228.72 Z" fill="#36455C"/>
<path d="M282.93 230.85 L286.73 230.85 L284.83 234.15 Z" fill="#36455C"/>
<path d="M286.9 236.9 L290.7 236.9 L288.8 240.2 Z" fill="#36455C"/>
<path d="M290.87 243.4 L294.67 243.4 L292.77 246.7 Z" fill="#36455C"/>
<path d="M294.83 250.14 L298.63 250.14 L296.73 253.44 Z" fill="#36455C"/>
<path d="M298.8 256.92 L302.6 256.92 L300.7 260.22 Z" fill="#36455C"/>
<path d="M302.77 263.54 L306.57 263.54 L304.67 266.84 Z" fill="#36455C"/>
<path d="M306.73 269.8 L310.53 269.8 L308.63 273.1 Z" fill="#36455C"/>
<path d="M310.7 275.5 L314.5 275.5 L312.6 278.8 Z" fill="#36455C"/>
<path d="M314.67 280.46 L318.47 280.46 L316.57 283.76 Z" fill="#36455C"/>
<path d="M318.63 284.55 L322.43 284.55 L320.53 287.85 Z" fill="#36455C"/>
<path d="M322.6 287.64 L326.4 287.64 L324.5 290.94 Z" fill="#36455C"/>
<path d="M326.57 289.62 L330.37 289.62 L328.47 292.92 Z" fill="#36455C"/>
<path d="M330.53 290.45 L334.33 290.45 L332.43 293.75 Z" fill="#36455C"/>
<path d="M334.5 290.1 L338.3 290.1 L336.4 293.4 Z" fill="#36455C"/>
<rect x="193.6" y="206.5" width="142.8" height="92.8" stroke="#7a7a7a" stroke-width="0.85" fill="none" />
<line x1="193.6" y1="299.3" x2="193.6" y2="301.1" stroke="#444" stroke-width="0.8" />
<line x1="217.4" y1="299.3" x2="217.4" y2="301.1" stroke="#444" stroke-width="0.8" />
<line x1="241.2" y1="299.3" x2="241.2" y2="301.1" stroke="#444" stroke-width="0.8" />
<line x1="265" y1="299.3" x2="265" y2="301.1" stroke="#444" stroke-width="0.8" />
<line x1="288.8" y1="299.3" x2="288.8" y2="301.1" stroke="#444" stroke-width="0.8" />
<line x1="312.6" y1="299.3" x2="312.6" y2="301.1" stroke="#444" stroke-width="0.8" />
<line x1="336.4" y1="299.3" x2="336.4" y2="301.1" stroke="#444" stroke-width="0.8" />
<line x1="191.8" y1="206.5" x2="193.6" y2="206.5" stroke="#444" stroke-width="0.8" />
<line x1="191.8" y1="229.7" x2="193.6" y2="229.7" stroke="#444" stroke-width="0.8" />
<line x1="191.8" y1="252.9" x2="193.6" y2="252.9" stroke="#444" stroke-width="0.8" />
<line x1="191.8" y1="276.1" x2="193.6" y2="276.1" stroke="#444" stroke-width="0.8" />
<line x1="191.8" y1="299.3" x2="193.6" y2="299.3" stroke="#444" stroke-width="0.8" />
<text x="178.13" y="209.4" font-size="8.2" font-family="Liberation Sans" fill="#000" textLength="12.31" lengthAdjust="spacingAndGlyphs" stroke="#000" stroke-width="0.1">1.0</text>
<text x="178.16" y="232.6" font-size="8.2" font-family="Liberation Sans" fill="#000" textLength="12.31" lengthAdjust="spacingAndGlyphs" stroke="#000" stroke-width="0.1">0.5</text>
<text x="178.13" y="255.8" font-size="8.2" font-family="Liberation Sans" fill="#000" textLength="12.31" lengthAdjust="spacingAndGlyphs" stroke="#000" stroke-width="0.1">0.0</text>
<text x="172.99" y="279" font-size="8.2" font-family="Liberation Sans" fill="#000" textLength="17.48" lengthAdjust="spacingAndGlyphs" stroke="#000" stroke-width="0.1">−0.5</text>
<text x="172.96" y="302.2" font-size="8.2" font-family="Liberation Sans" fill="#000" textLength="17.48" lengthAdjust="spacingAndGlyphs" stroke="#000" stroke-width="0.1">−1.0</text>
<text x="187.93" y="309" font-size="8.4" font-family="Liberation Sans" textLength="10.79" lengthAdjust="spacingAndGlyphs" stroke="#000" stroke-width="0.1"><tspan>−</tspan><tspan font-style="italic">π</tspan></text>
<text x="205.82" y="309" font-size="8.4" font-family="Liberation Sans" textLength="23.12" lengthAdjust="spacingAndGlyphs" stroke="#000" stroke-width="0.1"><tspan>−2</tspan><tspan font-style="italic">π</tspan><tspan>/3</tspan></text>
<text x="231.91" y="309" font-size="8.4" font-family="Liberation Sans" textLength="18.53" lengthAdjust="spacingAndGlyphs" stroke="#000" stroke-width="0.1"><tspan>−</tspan><tspan font-style="italic">π</tspan><tspan>/3</tspan></text>
<text x="262.32" y="309" font-size="8.4" font-family="Liberation Sans" textLength="5.35" lengthAdjust="spacingAndGlyphs" stroke="#000" stroke-width="0.1"><tspan>0</tspan></text>
<text x="282.26" y="309" font-size="8.4" font-family="Liberation Sans" textLength="13.07" lengthAdjust="spacingAndGlyphs" stroke="#000" stroke-width="0.1"><tspan font-style="italic">π</tspan><tspan>/3</tspan></text>
<text x="303.82" y="309" font-size="8.4" font-family="Liberation Sans" textLength="17.5" lengthAdjust="spacingAndGlyphs" stroke="#000" stroke-width="0.1"><tspan>2</tspan><tspan font-style="italic">π</tspan><tspan>/3</tspan></text>
<text x="333.44" y="309" font-size="8.4" font-family="Liberation Sans" textLength="5.44" lengthAdjust="spacingAndGlyphs" stroke="#000" stroke-width="0.1"><tspan font-style="italic">π</tspan></text>
<text x="227.52" y="295.6" font-size="8.9" font-family="Liberation Sans" fill="#000" textLength="92.6" lengthAdjust="spacingAndGlyphs" stroke="#000" stroke-width="0.1">average fidelity 88.95%</text>
<text x="213.91" y="319" font-size="9.5" font-family="Liberation Sans" fill="#000" textLength="81.67" lengthAdjust="spacingAndGlyphs" stroke="#000" stroke-width="0.1">Rotation angle of</text>
<line x1="299.6" y1="312.4" x2="299.6" y2="321.9" stroke="#000" stroke-width="0.8" />
<text x="300.57" y="318.6" font-size="9" font-family="Liberation Sans" font-style="italic" fill="#000" textLength="4.7" lengthAdjust="spacingAndGlyphs" stroke="#000" stroke-width="0.1">θ</text>
<text x="307.24" y="315.5" font-size="6.2" font-family="Liberation Sans" font-style="italic" fill="#000" textLength="2.99" lengthAdjust="spacingAndGlyphs" stroke="#000" stroke-width="0.1">x</text>
<text x="307.32" y="322" font-size="5.6" font-family="Liberation Sans" fill="#000" textLength="3.28" lengthAdjust="spacingAndGlyphs" stroke="#000" stroke-width="0.1">L</text>
<path d="M311.7 312.9 L314.3 316.6 L311.7 320.3" fill="none" stroke="#111" stroke-width="0.9" stroke-linejoin="miter"/>
<text x="360.09" y="176.5" font-size="12.2" font-family="Liberation Sans" font-weight="bold" fill="#000" >f</text>
<path d="M402.1 169.2 L400.7 172.5 L402.1 175.8" fill="none" stroke="#222" stroke-width="0.8"/>
<text x="402.4" y="174.8" font-size="8.3" font-family="Liberation Sans" font-style="italic" fill="#000" textLength="5.16" lengthAdjust="spacingAndGlyphs" stroke="#000" stroke-width="0.1">X</text>
<text x="407.75" y="176.4" font-size="5.7" font-family="Liberation Sans" fill="#000" textLength="2.4" lengthAdjust="spacingAndGlyphs" stroke="#000" stroke-width="0.1">L</text>
<path d="M412.1 169.2 L413.6 172.5 L412.1 175.8" fill="none" stroke="#222" stroke-width="0.8" stroke-linejoin="miter"/>
<path d="M427.2 169.2 L425.8 172.5 L427.2 175.8" fill="none" stroke="#222" stroke-width="0.8"/>
<text x="426.42" y="174.8" font-size="8.3" font-family="Liberation Sans" font-style="italic" fill="#000" textLength="5.94" lengthAdjust="spacingAndGlyphs" stroke="#000" stroke-width="0.1">Y</text>
<text x="432.85" y="176.4" font-size="5.7" font-family="Liberation Sans" fill="#000" textLength="2.4" lengthAdjust="spacingAndGlyphs" stroke="#000" stroke-width="0.1">L</text>
<path d="M437.2 169.2 L438.7 172.5 L437.2 175.8" fill="none" stroke="#222" stroke-width="0.8" stroke-linejoin="miter"/>
<path d="M452.4 169.2 L451 172.5 L452.4 175.8" fill="none" stroke="#222" stroke-width="0.8"/>
<text x="452.71" y="174.8" font-size="8.3" font-family="Liberation Sans" font-style="italic" fill="#000" textLength="5.15" lengthAdjust="spacingAndGlyphs" stroke="#000" stroke-width="0.1">Z</text>
<text x="458.05" y="176.4" font-size="5.7" font-family="Liberation Sans" fill="#000" textLength="2.4" lengthAdjust="spacingAndGlyphs" stroke="#000" stroke-width="0.1">L</text>
<path d="M462.4 169.2 L463.9 172.5 L462.4 175.8" fill="none" stroke="#222" stroke-width="0.8" stroke-linejoin="miter"/>
<text x="474.86" y="176.1" font-size="8.9" font-family="Liberation Sans" fill="#000" textLength="28.76" lengthAdjust="spacingAndGlyphs" stroke="#000" stroke-width="0.1">Fidelity</text>
<text x="376.43" y="188.6" font-size="8.9" font-family="Liberation Sans" fill="#000" textLength="13.93" lengthAdjust="spacingAndGlyphs" stroke="#000" stroke-width="0.1">exp</text>
<text x="376.55" y="199.9" font-size="8.9" font-family="Liberation Sans" fill="#000" textLength="13.73" lengthAdjust="spacingAndGlyphs" stroke="#000" stroke-width="0.1">sim</text>
<circle cx="407.6" cy="185.6" r="1.6" fill="#4280BA"/>
<rect x="431.2" y="184.1" width="3" height="3" fill="#5C9C72"/>
<path d="M456 183.9 L459.8 183.9 L457.9 187.2 Z" fill="#36455C"/>
<path d="M488.3 184.3 L490.9 186.9 M488.3 186.9 L490.9 184.3" stroke="#BD4F5A" stroke-width="1.0" fill="none"/>
<line x1="399.75" y1="197.3" x2="415.75" y2="197.3" stroke="#4280BA" stroke-width="0.8" />
<line x1="424.65" y1="197.3" x2="440.65" y2="197.3" stroke="#5C9C72" stroke-width="0.8" />
<line x1="451.25" y1="197.3" x2="467.25" y2="197.3" stroke="#36455C" stroke-width="0.8" />
<line x1="482.65" y1="197.3" x2="498.65" y2="197.3" stroke="#BD4F5A" stroke-width="0.8" />
<line x1="388.88" y1="206.5" x2="388.88" y2="299" stroke="#bdbdbd" stroke-width="0.65" stroke-dasharray="1.1 0.9"/>
<line x1="412.77" y1="206.5" x2="412.77" y2="299" stroke="#bdbdbd" stroke-width="0.65" stroke-dasharray="1.1 0.9"/>
<line x1="436.65" y1="206.5" x2="436.65" y2="299" stroke="#bdbdbd" stroke-width="0.65" stroke-dasharray="1.1 0.9"/>
<line x1="460.53" y1="206.5" x2="460.53" y2="299" stroke="#bdbdbd" stroke-width="0.65" stroke-dasharray="1.1 0.9"/>
<line x1="484.42" y1="206.5" x2="484.42" y2="299" stroke="#bdbdbd" stroke-width="0.65" stroke-dasharray="1.1 0.9"/>
<line x1="365" y1="229.62" x2="508.3" y2="229.62" stroke="#bdbdbd" stroke-width="0.65" stroke-dasharray="1.1 0.9"/>
<line x1="365" y1="252.75" x2="508.3" y2="252.75" stroke="#bdbdbd" stroke-width="0.65" stroke-dasharray="1.1 0.9"/>
<line x1="365" y1="275.88" x2="508.3" y2="275.88" stroke="#bdbdbd" stroke-width="0.65" stroke-dasharray="1.1 0.9"/>
<path d="M368.98 212.84 L369.85 212.89 L370.72 212.94 L371.59 213.01 L372.46 213.08 L373.33 213.16 L374.21 213.24 L375.08 213.34 L375.95 213.43 L376.82 213.54 L377.69 213.65 L378.56 213.76 L379.43 213.88 L380.3 213.99 L381.17 214.12 L382.04 214.24 L382.91 214.36 L383.78 214.49 L384.65 214.61 L385.52 214.73 L386.4 214.85 L387.27 214.97 L388.14 215.08 L389.01 215.19 L389.88 215.29 L390.75 215.39 L391.62 215.48 L392.49 215.57 L393.36 215.65 L394.23 215.72 L395.1 215.78 L395.97 215.84 L396.84 215.88 L397.72 215.92 L398.59 215.95 L399.46 215.97 L400.33 215.98 L401.2 215.98 L402.07 215.97 L402.94 215.95 L403.81 215.93 L404.68 215.89 L405.55 215.84 L406.42 215.79 L407.29 215.73 L408.16 215.66 L409.03 215.58 L409.91 215.49 L410.78 215.4 L411.65 215.31 L412.52 215.2 L413.39 215.09 L414.26 214.98 L415.13 214.87 L416 214.75 L416.87 214.63 L417.74 214.5 L418.61 214.38 L419.48 214.26 L420.35 214.13 L421.23 214.01 L422.1 213.89 L422.97 213.78 L423.84 213.66 L424.71 213.55 L425.58 213.45 L426.45 213.35 L427.32 213.26 L428.19 213.17 L429.06 213.09 L429.93 213.02 L430.8 212.95 L431.67 212.9 L432.55 212.85 L433.42 212.81 L434.29 212.78 L435.16 212.76 L436.03 212.75 L436.9 212.74 L437.77 212.75 L438.64 212.77 L439.51 212.79 L440.38 212.83 L441.25 212.87 L442.12 212.93 L442.99 212.99 L443.86 213.06 L444.74 213.13 L445.61 213.22 L446.48 213.31 L447.35 213.41 L448.22 213.51 L449.09 213.62 L449.96 213.73 L450.83 213.84 L451.7 213.96 L452.57 214.08 L453.44 214.2 L454.31 214.33 L455.18 214.45 L456.06 214.57 L456.93 214.7 L457.8 214.82 L458.67 214.93 L459.54 215.05 L460.41 215.16 L461.28 215.26 L462.15 215.36 L463.02 215.46 L463.89 215.54 L464.76 215.62 L465.63 215.7 L466.5 215.76 L467.37 215.82 L468.25 215.87 L469.12 215.91 L469.99 215.94 L470.86 215.97 L471.73 215.98 L472.6 215.98 L473.47 215.98 L474.34 215.96 L475.21 215.93 L476.08 215.9 L476.95 215.86 L477.82 215.81 L478.69 215.75 L479.57 215.68 L480.44 215.6 L481.31 215.52 L482.18 215.43 L483.05 215.33 L483.92 215.23 L484.79 215.13 L485.66 215.01 L486.53 214.9 L487.4 214.78 L488.27 214.66 L489.14 214.54 L490.01 214.42 L490.89 214.29 L491.76 214.17 L492.63 214.05 L493.5 213.93 L494.37 213.81 L495.24 213.69 L496.11 213.58 L496.98 213.48 L497.85 213.38 L498.72 213.28 L499.59 213.19 L500.46 213.11 L501.33 213.04 L502.2 212.97 L503.08 212.91 L503.95 212.86 L504.82 212.82 L505.69 212.79 L506.56 212.76 L507.43 212.75 L508.3 212.74" fill="none" stroke="#BD4F5A" stroke-width="0.9"/>
<path d="M368.98 285.54 L369.85 285.3 L370.72 285.01 L371.59 284.67 L372.46 284.28 L373.33 283.85 L374.21 283.37 L375.08 282.85 L375.95 282.29 L376.82 281.68 L377.69 281.03 L378.56 280.34 L379.43 279.6 L380.3 278.83 L381.17 278.02 L382.04 277.18 L382.91 276.3 L383.78 275.38 L384.65 274.43 L385.52 273.45 L386.4 272.44 L387.27 271.4 L388.14 270.33 L389.01 269.24 L389.88 268.13 L390.75 266.99 L391.62 265.83 L392.49 264.65 L393.36 263.45 L394.23 262.24 L395.1 261.02 L395.97 259.78 L396.84 258.53 L397.72 257.28 L398.59 256.01 L399.46 254.75 L400.33 253.48 L401.2 252.21 L402.07 250.93 L402.94 249.67 L403.81 248.4 L404.68 247.15 L405.55 245.9 L406.42 244.66 L407.29 243.43 L408.16 242.22 L409.03 241.02 L409.91 239.84 L410.78 238.68 L411.65 237.54 L412.52 236.42 L413.39 235.32 L414.26 234.25 L415.13 233.21 L416 232.19 L416.87 231.21 L417.74 230.25 L418.61 229.33 L419.48 228.45 L420.35 227.59 L421.23 226.78 L422.1 226 L422.97 225.27 L423.84 224.57 L424.71 223.91 L425.58 223.3 L426.45 222.73 L427.32 222.2 L428.19 221.71 L429.06 221.28 L429.93 220.88 L430.8 220.54 L431.67 220.24 L432.55 219.99 L433.42 219.78 L434.29 219.63 L435.16 219.52 L436.03 219.46 L436.9 219.45 L437.77 219.49 L438.64 219.58 L439.51 219.71 L440.38 219.89 L441.25 220.13 L442.12 220.4 L442.99 220.73 L443.86 221.1 L444.74 221.52 L445.61 221.98 L446.48 222.49 L447.35 223.05 L448.22 223.64 L449.09 224.28 L449.96 224.96 L450.83 225.68 L451.7 226.44 L452.57 227.24 L453.44 228.08 L454.31 228.95 L455.18 229.85 L456.06 230.79 L456.93 231.77 L457.8 232.77 L458.67 233.8 L459.54 234.86 L460.41 235.94 L461.28 237.05 L462.15 238.18 L463.02 239.34 L463.89 240.51 L464.76 241.7 L465.63 242.91 L466.5 244.13 L467.37 245.37 L468.25 246.61 L469.12 247.86 L469.99 249.12 L470.86 250.39 L471.73 251.66 L472.6 252.93 L473.47 254.2 L474.34 255.47 L475.21 256.74 L476.08 258 L476.95 259.25 L477.82 260.49 L478.69 261.72 L479.57 262.94 L480.44 264.14 L481.31 265.33 L482.18 266.49 L483.05 267.64 L483.92 268.77 L484.79 269.87 L485.66 270.95 L486.53 272 L487.4 273.02 L488.27 274.02 L489.14 274.98 L490.01 275.91 L490.89 276.8 L491.76 277.67 L492.63 278.49 L493.5 279.28 L494.37 280.03 L495.24 280.74 L496.11 281.41 L496.98 282.03 L497.85 282.62 L498.72 283.16 L499.59 283.65 L500.46 284.1 L501.33 284.51 L502.2 284.87 L503.08 285.18 L503.95 285.45 L504.82 285.66 L505.69 285.83 L506.56 285.95 L507.43 286.03 L508.3 286.05" fill="none" stroke="#4280BA" stroke-width="0.9"/>
<path d="M368.98 257.41 L369.85 258.41 L370.72 259.41 L371.59 260.4 L372.46 261.37 L373.33 262.34 L374.21 263.29 L375.08 264.22 L375.95 265.14 L376.82 266.04 L377.69 266.92 L378.56 267.77 L379.43 268.61 L380.3 269.43 L381.17 270.22 L382.04 270.98 L382.91 271.72 L383.78 272.43 L384.65 273.11 L385.52 273.76 L386.4 274.38 L387.27 274.97 L388.14 275.53 L389.01 276.05 L389.88 276.54 L390.75 277 L391.62 277.42 L392.49 277.8 L393.36 278.15 L394.23 278.46 L395.1 278.74 L395.97 278.97 L396.84 279.17 L397.72 279.33 L398.59 279.45 L399.46 279.53 L400.33 279.57 L401.2 279.57 L402.07 279.54 L402.94 279.46 L403.81 279.35 L404.68 279.19 L405.55 279 L406.42 278.77 L407.29 278.5 L408.16 278.2 L409.03 277.86 L409.91 277.48 L410.78 277.06 L411.65 276.61 L412.52 276.13 L413.39 275.61 L414.26 275.05 L415.13 274.47 L416 273.85 L416.87 273.2 L417.74 272.53 L418.61 271.82 L419.48 271.09 L420.35 270.33 L421.23 269.54 L422.1 268.73 L422.97 267.9 L423.84 267.04 L424.71 266.16 L425.58 265.27 L426.45 264.35 L427.32 263.42 L428.19 262.47 L429.06 261.51 L429.93 260.54 L430.8 259.55 L431.67 258.56 L432.55 257.55 L433.42 256.54 L434.29 255.52 L435.16 254.5 L436.03 253.48 L436.9 252.46 L437.77 251.43 L438.64 250.41 L439.51 249.39 L440.38 248.38 L441.25 247.37 L442.12 246.37 L442.99 245.38 L443.86 244.4 L444.74 243.44 L445.61 242.48 L446.48 241.55 L447.35 240.62 L448.22 239.72 L449.09 238.83 L449.96 237.97 L450.83 237.13 L451.7 236.3 L452.57 235.51 L453.44 234.74 L454.31 233.99 L455.18 233.27 L456.06 232.58 L456.93 231.92 L457.8 231.29 L458.67 230.69 L459.54 230.13 L460.41 229.59 L461.28 229.09 L462.15 228.63 L463.02 228.2 L463.89 227.8 L464.76 227.44 L465.63 227.12 L466.5 226.84 L467.37 226.59 L468.25 226.38 L469.12 226.22 L469.99 226.08 L470.86 225.99 L471.73 225.94 L472.6 225.93 L473.47 225.95 L474.34 226.01 L475.21 226.12 L476.08 226.26 L476.95 226.44 L477.82 226.66 L478.69 226.92 L479.57 227.21 L480.44 227.54 L481.31 227.91 L482.18 228.32 L483.05 228.76 L483.92 229.23 L484.79 229.74 L485.66 230.28 L486.53 230.86 L487.4 231.47 L488.27 232.11 L489.14 232.78 L490.01 233.47 L490.89 234.2 L491.76 234.95 L492.63 235.73 L493.5 236.54 L494.37 237.36 L495.24 238.21 L496.11 239.08 L496.98 239.98 L497.85 240.89 L498.72 241.81 L499.59 242.76 L500.46 243.71 L501.33 244.68 L502.2 245.67 L503.08 246.66 L503.95 247.66 L504.82 248.67 L505.69 249.68 L506.56 250.7 L507.43 251.73 L508.3 252.75" fill="none" stroke="#5C9C72" stroke-width="0.9"/>
<path d="M368.98 252.75 L369.85 252.75 L370.72 252.75 L371.59 252.75 L372.46 252.75 L373.33 252.75 L374.21 252.75 L375.08 252.75 L375.95 252.75 L376.82 252.75 L377.69 252.75 L378.56 252.75 L379.43 252.75 L380.3 252.75 L381.17 252.75 L382.04 252.75 L382.91 252.75 L383.78 252.75 L384.65 252.75 L385.52 252.75 L386.4 252.75 L387.27 252.75 L388.14 252.75 L389.01 252.75 L389.88 252.75 L390.75 252.75 L391.62 252.75 L392.49 252.75 L393.36 252.75 L394.23 252.75 L395.1 252.75 L395.97 252.75 L396.84 252.75 L397.72 252.75 L398.59 252.75 L399.46 252.75 L400.33 252.75 L401.2 252.75 L402.07 252.75 L402.94 252.75 L403.81 252.75 L404.68 252.75 L405.55 252.75 L406.42 252.75 L407.29 252.75 L408.16 252.75 L409.03 252.75 L409.91 252.75 L410.78 252.75 L411.65 252.75 L412.52 252.75 L413.39 252.75 L414.26 252.75 L415.13 252.75 L416 252.75 L416.87 252.75 L417.74 252.75 L418.61 252.75 L419.48 252.75 L420.35 252.75 L421.23 252.75 L422.1 252.75 L422.97 252.75 L423.84 252.75 L424.71 252.75 L425.58 252.75 L426.45 252.75 L427.32 252.75 L428.19 252.75 L429.06 252.75 L429.93 252.75 L430.8 252.75 L431.67 252.75 L432.55 252.75 L433.42 252.75 L434.29 252.75 L435.16 252.75 L436.03 252.75 L436.9 252.75 L437.77 252.75 L438.64 252.75 L439.51 252.75 L440.38 252.75 L441.25 252.75 L442.12 252.75 L442.99 252.75 L443.86 252.75 L444.74 252.75 L445.61 252.75 L446.48 252.75 L447.35 252.75 L448.22 252.75 L449.09 252.75 L449.96 252.75 L450.83 252.75 L451.7 252.75 L452.57 252.75 L453.44 252.75 L454.31 252.75 L455.18 252.75 L456.06 252.75 L456.93 252.75 L457.8 252.75 L458.67 252.75 L459.54 252.75 L460.41 252.75 L461.28 252.75 L462.15 252.75 L463.02 252.75 L463.89 252.75 L464.76 252.75 L465.63 252.75 L466.5 252.75 L467.37 252.75 L468.25 252.75 L469.12 252.75 L469.99 252.75 L470.86 252.75 L471.73 252.75 L472.6 252.75 L473.47 252.75 L474.34 252.75 L475.21 252.75 L476.08 252.75 L476.95 252.75 L477.82 252.75 L478.69 252.75 L479.57 252.75 L480.44 252.75 L481.31 252.75 L482.18 252.75 L483.05 252.75 L483.92 252.75 L484.79 252.75 L485.66 252.75 L486.53 252.75 L487.4 252.75 L488.27 252.75 L489.14 252.75 L490.01 252.75 L490.89 252.75 L491.76 252.75 L492.63 252.75 L493.5 252.75 L494.37 252.75 L495.24 252.75 L496.11 252.75 L496.98 252.75 L497.85 252.75 L498.72 252.75 L499.59 252.75 L500.46 252.75 L501.33 252.75 L502.2 252.75 L503.08 252.75 L503.95 252.75 L504.82 252.75 L505.69 252.75 L506.56 252.75 L507.43 252.75 L508.3 252.75" fill="none" stroke="#36455C" stroke-width="0.9"/>
<path d="M367.68 212.56 L370.28 215.16 M367.68 215.16 L370.28 212.56" stroke="#BD4F5A" stroke-width="1.0" fill="none"/>
<path d="M371.66 212.86 L374.26 215.46 M371.66 215.46 L374.26 212.86" stroke="#BD4F5A" stroke-width="1.0" fill="none"/>
<path d="M375.64 213.36 L378.24 215.96 M375.64 215.96 L378.24 213.36" stroke="#BD4F5A" stroke-width="1.0" fill="none"/>
<path d="M379.62 214.01 L382.22 216.61 M379.62 216.61 L382.22 214.01" stroke="#BD4F5A" stroke-width="1.0" fill="none"/>
<path d="M383.6 214.7 L386.2 217.3 M383.6 217.3 L386.2 214.7" stroke="#BD4F5A" stroke-width="1.0" fill="none"/>
<path d="M387.58 215.37 L390.18 217.97 M387.58 217.97 L390.18 215.37" stroke="#BD4F5A" stroke-width="1.0" fill="none"/>
<path d="M391.56 215.91 L394.16 218.51 M391.56 218.51 L394.16 215.91" stroke="#BD4F5A" stroke-width="1.0" fill="none"/>
<path d="M395.54 216.27 L398.14 218.87 M395.54 218.87 L398.14 216.27" stroke="#BD4F5A" stroke-width="1.0" fill="none"/>
<path d="M399.52 216.39 L402.12 218.99 M399.52 218.99 L402.12 216.39" stroke="#BD4F5A" stroke-width="1.0" fill="none"/>
<path d="M403.51 216.27 L406.11 218.87 M403.51 218.87 L406.11 216.27" stroke="#BD4F5A" stroke-width="1.0" fill="none"/>
<path d="M407.49 215.91 L410.09 218.51 M407.49 218.51 L410.09 215.91" stroke="#BD4F5A" stroke-width="1.0" fill="none"/>
<path d="M411.47 215.37 L414.07 217.97 M411.47 217.97 L414.07 215.37" stroke="#BD4F5A" stroke-width="1.0" fill="none"/>
<path d="M415.45 214.7 L418.05 217.3 M415.45 217.3 L418.05 214.7" stroke="#BD4F5A" stroke-width="1.0" fill="none"/>
<path d="M419.43 214.01 L422.03 216.61 M419.43 216.61 L422.03 214.01" stroke="#BD4F5A" stroke-width="1.0" fill="none"/>
<path d="M423.41 213.36 L426.01 215.96 M423.41 215.96 L426.01 213.36" stroke="#BD4F5A" stroke-width="1.0" fill="none"/>
<path d="M427.39 212.86 L429.99 215.46 M427.39 215.46 L429.99 212.86" stroke="#BD4F5A" stroke-width="1.0" fill="none"/>
<path d="M431.37 212.56 L433.97 215.16 M431.37 215.16 L433.97 212.56" stroke="#BD4F5A" stroke-width="1.0" fill="none"/>
<path d="M435.35 212.51 L437.95 215.11 M435.35 215.11 L437.95 212.51" stroke="#BD4F5A" stroke-width="1.0" fill="none"/>
<path d="M439.33 212.72 L441.93 215.32 M439.33 215.32 L441.93 212.72" stroke="#BD4F5A" stroke-width="1.0" fill="none"/>
<path d="M443.31 213.17 L445.91 215.77 M443.31 215.77 L445.91 213.17" stroke="#BD4F5A" stroke-width="1.0" fill="none"/>
<path d="M447.29 213.83 L449.89 216.43 M447.29 216.43 L449.89 213.83" stroke="#BD4F5A" stroke-width="1.0" fill="none"/>
<path d="M451.27 214.6 L453.87 217.2 M451.27 217.2 L453.87 214.6" stroke="#BD4F5A" stroke-width="1.0" fill="none"/>
<path d="M455.25 215.41 L457.85 218.01 M455.25 218.01 L457.85 215.41" stroke="#BD4F5A" stroke-width="1.0" fill="none"/>
<path d="M459.23 216.17 L461.83 218.77 M459.23 218.77 L461.83 216.17" stroke="#BD4F5A" stroke-width="1.0" fill="none"/>
<path d="M463.21 216.78 L465.81 219.38 M463.21 219.38 L465.81 216.78" stroke="#BD4F5A" stroke-width="1.0" fill="none"/>
<path d="M467.19 217.18 L469.79 219.78 M467.19 219.78 L469.79 217.18" stroke="#BD4F5A" stroke-width="1.0" fill="none"/>
<path d="M471.18 217.32 L473.78 219.92 M471.18 219.92 L473.78 217.32" stroke="#BD4F5A" stroke-width="1.0" fill="none"/>
<path d="M475.16 217.18 L477.76 219.78 M475.16 219.78 L477.76 217.18" stroke="#BD4F5A" stroke-width="1.0" fill="none"/>
<path d="M479.14 216.78 L481.74 219.38 M479.14 219.38 L481.74 216.78" stroke="#BD4F5A" stroke-width="1.0" fill="none"/>
<path d="M483.12 216.17 L485.72 218.77 M483.12 218.77 L485.72 216.17" stroke="#BD4F5A" stroke-width="1.0" fill="none"/>
<path d="M487.1 215.41 L489.7 218.01 M487.1 218.01 L489.7 215.41" stroke="#BD4F5A" stroke-width="1.0" fill="none"/>
<path d="M491.08 214.6 L493.68 217.2 M491.08 217.2 L493.68 214.6" stroke="#BD4F5A" stroke-width="1.0" fill="none"/>
<path d="M495.06 213.83 L497.66 216.43 M495.06 216.43 L497.66 213.83" stroke="#BD4F5A" stroke-width="1.0" fill="none"/>
<path d="M499.04 213.17 L501.64 215.77 M499.04 215.77 L501.64 213.17" stroke="#BD4F5A" stroke-width="1.0" fill="none"/>
<path d="M503.02 212.72 L505.62 215.32 M503.02 215.32 L505.62 212.72" stroke="#BD4F5A" stroke-width="1.0" fill="none"/>
<path d="M507 212.51 L509.6 215.11 M507 215.11 L509.6 212.51" stroke="#BD4F5A" stroke-width="1.0" fill="none"/>
<circle cx="368.98" cy="281.89" r="1.6" fill="#4280BA"/>
<circle cx="372.96" cy="280.51" r="1.6" fill="#4280BA"/>
<circle cx="376.94" cy="278.26" r="1.6" fill="#4280BA"/>
<circle cx="380.92" cy="275.21" r="1.6" fill="#4280BA"/>
<circle cx="384.9" cy="271.45" r="1.6" fill="#4280BA"/>
<circle cx="388.88" cy="267.09" r="1.6" fill="#4280BA"/>
<circle cx="392.86" cy="262.27" r="1.6" fill="#4280BA"/>
<circle cx="396.84" cy="257.13" r="1.6" fill="#4280BA"/>
<circle cx="400.82" cy="251.82" r="1.6" fill="#4280BA"/>
<circle cx="404.81" cy="246.52" r="1.6" fill="#4280BA"/>
<circle cx="408.79" cy="241.38" r="1.6" fill="#4280BA"/>
<circle cx="412.77" cy="236.56" r="1.6" fill="#4280BA"/>
<circle cx="416.75" cy="232.2" r="1.6" fill="#4280BA"/>
<circle cx="420.73" cy="228.44" r="1.6" fill="#4280BA"/>
<circle cx="424.71" cy="225.39" r="1.6" fill="#4280BA"/>
<circle cx="428.69" cy="223.14" r="1.6" fill="#4280BA"/>
<circle cx="432.67" cy="221.76" r="1.6" fill="#4280BA"/>
<circle cx="436.65" cy="221.3" r="1.6" fill="#4280BA"/>
<circle cx="440.63" cy="221.76" r="1.6" fill="#4280BA"/>
<circle cx="444.61" cy="223.14" r="1.6" fill="#4280BA"/>
<circle cx="448.59" cy="225.39" r="1.6" fill="#4280BA"/>
<circle cx="452.57" cy="228.44" r="1.6" fill="#4280BA"/>
<circle cx="456.55" cy="232.2" r="1.6" fill="#4280BA"/>
<circle cx="460.53" cy="236.56" r="1.6" fill="#4280BA"/>
<circle cx="464.51" cy="241.38" r="1.6" fill="#4280BA"/>
<circle cx="468.49" cy="246.52" r="1.6" fill="#4280BA"/>
<circle cx="472.48" cy="251.82" r="1.6" fill="#4280BA"/>
<circle cx="476.46" cy="257.13" r="1.6" fill="#4280BA"/>
<circle cx="480.44" cy="262.27" r="1.6" fill="#4280BA"/>
<circle cx="484.42" cy="267.09" r="1.6" fill="#4280BA"/>
<circle cx="488.4" cy="271.45" r="1.6" fill="#4280BA"/>
<circle cx="492.38" cy="275.21" r="1.6" fill="#4280BA"/>
<circle cx="496.36" cy="278.26" r="1.6" fill="#4280BA"/>
<circle cx="500.34" cy="280.51" r="1.6" fill="#4280BA"/>
<circle cx="504.32" cy="281.89" r="1.6" fill="#4280BA"/>
<circle cx="508.3" cy="282.35" r="1.6" fill="#4280BA"/>
<rect x="367.48" y="255.1" width="3" height="3" fill="#5C9C72"/>
<rect x="371.46" y="258.84" width="3" height="3" fill="#5C9C72"/>
<rect x="375.44" y="262.35" width="3" height="3" fill="#5C9C72"/>
<rect x="379.42" y="265.52" width="3" height="3" fill="#5C9C72"/>
<rect x="383.4" y="268.26" width="3" height="3" fill="#5C9C72"/>
<rect x="387.38" y="270.48" width="3" height="3" fill="#5C9C72"/>
<rect x="391.36" y="272.11" width="3" height="3" fill="#5C9C72"/>
<rect x="395.34" y="273.11" width="3" height="3" fill="#5C9C72"/>
<rect x="399.32" y="273.45" width="3" height="3" fill="#5C9C72"/>
<rect x="403.31" y="273.11" width="3" height="3" fill="#5C9C72"/>
<rect x="407.29" y="272.11" width="3" height="3" fill="#5C9C72"/>
<rect x="411.27" y="270.48" width="3" height="3" fill="#5C9C72"/>
<rect x="415.25" y="268.26" width="3" height="3" fill="#5C9C72"/>
<rect x="419.23" y="265.52" width="3" height="3" fill="#5C9C72"/>
<rect x="423.21" y="262.35" width="3" height="3" fill="#5C9C72"/>
<rect x="427.19" y="258.84" width="3" height="3" fill="#5C9C72"/>
<rect x="431.17" y="255.1" width="3" height="3" fill="#5C9C72"/>
<rect x="435.15" y="251.25" width="3" height="3" fill="#5C9C72"/>
<rect x="439.13" y="247.4" width="3" height="3" fill="#5C9C72"/>
<rect x="443.11" y="243.66" width="3" height="3" fill="#5C9C72"/>
<rect x="447.09" y="240.15" width="3" height="3" fill="#5C9C72"/>
<rect x="451.07" y="236.98" width="3" height="3" fill="#5C9C72"/>
<rect x="455.05" y="234.24" width="3" height="3" fill="#5C9C72"/>
<rect x="459.03" y="232.02" width="3" height="3" fill="#5C9C72"/>
<rect x="463.01" y="230.39" width="3" height="3" fill="#5C9C72"/>
<rect x="466.99" y="229.39" width="3" height="3" fill="#5C9C72"/>
<rect x="470.98" y="229.05" width="3" height="3" fill="#5C9C72"/>
<rect x="474.96" y="229.39" width="3" height="3" fill="#5C9C72"/>
<rect x="478.94" y="230.39" width="3" height="3" fill="#5C9C72"/>
<rect x="482.92" y="232.02" width="3" height="3" fill="#5C9C72"/>
<rect x="486.9" y="234.24" width="3" height="3" fill="#5C9C72"/>
<rect x="490.88" y="236.98" width="3" height="3" fill="#5C9C72"/>
<rect x="494.86" y="240.15" width="3" height="3" fill="#5C9C72"/>
<rect x="498.84" y="243.66" width="3" height="3" fill="#5C9C72"/>
<rect x="502.82" y="247.4" width="3" height="3" fill="#5C9C72"/>
<rect x="506.8" y="251.25" width="3" height="3" fill="#5C9C72"/>
<path d="M367.08 249 L370.88 249 L368.98 252.3 Z" fill="#36455C"/>
<path d="M371.06 248.34 L374.86 248.34 L372.96 251.64 Z" fill="#36455C"/>
<path d="M375.04 247.75 L378.84 247.75 L376.94 251.05 Z" fill="#36455C"/>
<path d="M379.02 247.24 L382.82 247.24 L380.92 250.54 Z" fill="#36455C"/>
<path d="M383 246.82 L386.8 246.82 L384.9 250.12 Z" fill="#36455C"/>
<path d="M386.98 246.51 L390.78 246.51 L388.88 249.81 Z" fill="#36455C"/>
<path d="M390.96 246.33 L394.76 246.33 L392.86 249.63 Z" fill="#36455C"/>
<path d="M394.94 246.26 L398.74 246.26 L396.84 249.56 Z" fill="#36455C"/>
<path d="M398.93 246.33 L402.72 246.33 L400.82 249.63 Z" fill="#36455C"/>
<path d="M402.91 246.51 L406.71 246.51 L404.81 249.81 Z" fill="#36455C"/>
<path d="M406.89 246.82 L410.69 246.82 L408.79 250.12 Z" fill="#36455C"/>
<path d="M410.87 247.24 L414.67 247.24 L412.77 250.54 Z" fill="#36455C"/>
<path d="M414.85 247.75 L418.65 247.75 L416.75 251.05 Z" fill="#36455C"/>
<path d="M418.83 248.34 L422.63 248.34 L420.73 251.64 Z" fill="#36455C"/>
<path d="M422.81 249 L426.61 249 L424.71 252.3 Z" fill="#36455C"/>
<path d="M426.79 249.7 L430.59 249.7 L428.69 253 Z" fill="#36455C"/>
<path d="M430.77 250.42 L434.57 250.42 L432.67 253.72 Z" fill="#36455C"/>
<path d="M434.75 251.15 L438.55 251.15 L436.65 254.45 Z" fill="#36455C"/>
<path d="M438.73 251.85 L442.53 251.85 L440.63 255.15 Z" fill="#36455C"/>
<path d="M442.71 252.51 L446.51 252.51 L444.61 255.81 Z" fill="#36455C"/>
<path d="M446.69 253.1 L450.49 253.1 L448.59 256.4 Z" fill="#36455C"/>
<path d="M450.67 253.61 L454.47 253.61 L452.57 256.91 Z" fill="#36455C"/>
<path d="M454.65 254.03 L458.45 254.03 L456.55 257.33 Z" fill="#36455C"/>
<path d="M458.63 254.34 L462.43 254.34 L460.53 257.64 Z" fill="#36455C"/>
<path d="M462.61 254.52 L466.41 254.52 L464.51 257.82 Z" fill="#36455C"/>
<path d="M466.59 254.59 L470.39 254.59 L468.49 257.89 Z" fill="#36455C"/>
<path d="M470.58 254.52 L474.38 254.52 L472.48 257.82 Z" fill="#36455C"/>
<path d="M474.56 254.34 L478.36 254.34 L476.46 257.64 Z" fill="#36455C"/>
<path d="M478.54 254.03 L482.34 254.03 L480.44 257.33 Z" fill="#36455C"/>
<path d="M482.52 253.61 L486.32 253.61 L484.42 256.91 Z" fill="#36455C"/>
<path d="M486.5 253.1 L490.3 253.1 L488.4 256.4 Z" fill="#36455C"/>
<path d="M490.48 252.51 L494.28 252.51 L492.38 255.81 Z" fill="#36455C"/>
<path d="M494.46 251.85 L498.26 251.85 L496.36 255.15 Z" fill="#36455C"/>
<path d="M498.44 251.15 L502.24 251.15 L500.34 254.45 Z" fill="#36455C"/>
<path d="M502.42 250.42 L506.22 250.42 L504.32 253.72 Z" fill="#36455C"/>
<path d="M506.4 249.7 L510.2 249.7 L508.3 253 Z" fill="#36455C"/>
<rect x="365" y="206.5" width="143.3" height="92.5" stroke="#7a7a7a" stroke-width="0.85" fill="none" />
<line x1="365" y1="299" x2="365" y2="300.8" stroke="#444" stroke-width="0.8" />
<line x1="388.88" y1="299" x2="388.88" y2="300.8" stroke="#444" stroke-width="0.8" />
<line x1="412.77" y1="299" x2="412.77" y2="300.8" stroke="#444" stroke-width="0.8" />
<line x1="436.65" y1="299" x2="436.65" y2="300.8" stroke="#444" stroke-width="0.8" />
<line x1="460.53" y1="299" x2="460.53" y2="300.8" stroke="#444" stroke-width="0.8" />
<line x1="484.42" y1="299" x2="484.42" y2="300.8" stroke="#444" stroke-width="0.8" />
<line x1="508.3" y1="299" x2="508.3" y2="300.8" stroke="#444" stroke-width="0.8" />
<line x1="363.2" y1="206.5" x2="365" y2="206.5" stroke="#444" stroke-width="0.8" />
<line x1="363.2" y1="229.62" x2="365" y2="229.62" stroke="#444" stroke-width="0.8" />
<line x1="363.2" y1="252.75" x2="365" y2="252.75" stroke="#444" stroke-width="0.8" />
<line x1="363.2" y1="275.88" x2="365" y2="275.88" stroke="#444" stroke-width="0.8" />
<line x1="363.2" y1="299" x2="365" y2="299" stroke="#444" stroke-width="0.8" />
<text x="349.53" y="209.4" font-size="8.2" font-family="Liberation Sans" fill="#000" textLength="12.31" lengthAdjust="spacingAndGlyphs" stroke="#000" stroke-width="0.1">1.0</text>
<text x="349.56" y="232.53" font-size="8.2" font-family="Liberation Sans" fill="#000" textLength="12.31" lengthAdjust="spacingAndGlyphs" stroke="#000" stroke-width="0.1">0.5</text>
<text x="349.53" y="255.65" font-size="8.2" font-family="Liberation Sans" fill="#000" textLength="12.31" lengthAdjust="spacingAndGlyphs" stroke="#000" stroke-width="0.1">0.0</text>
<text x="344.39" y="278.77" font-size="8.2" font-family="Liberation Sans" fill="#000" textLength="17.48" lengthAdjust="spacingAndGlyphs" stroke="#000" stroke-width="0.1">−0.5</text>
<text x="344.36" y="301.9" font-size="8.2" font-family="Liberation Sans" fill="#000" textLength="17.48" lengthAdjust="spacingAndGlyphs" stroke="#000" stroke-width="0.1">−1.0</text>
<text x="359.33" y="309" font-size="8.4" font-family="Liberation Sans" textLength="10.79" lengthAdjust="spacingAndGlyphs" stroke="#000" stroke-width="0.1"><tspan>−</tspan><tspan font-style="italic">π</tspan></text>
<text x="377.3" y="309" font-size="8.4" font-family="Liberation Sans" textLength="23.12" lengthAdjust="spacingAndGlyphs" stroke="#000" stroke-width="0.1"><tspan>−2</tspan><tspan font-style="italic">π</tspan><tspan>/3</tspan></text>
<text x="403.48" y="309" font-size="8.4" font-family="Liberation Sans" textLength="18.53" lengthAdjust="spacingAndGlyphs" stroke="#000" stroke-width="0.1"><tspan>−</tspan><tspan font-style="italic">π</tspan><tspan>/3</tspan></text>
<text x="433.97" y="309" font-size="8.4" font-family="Liberation Sans" textLength="5.35" lengthAdjust="spacingAndGlyphs" stroke="#000" stroke-width="0.1"><tspan>0</tspan></text>
<text x="454" y="309" font-size="8.4" font-family="Liberation Sans" textLength="13.07" lengthAdjust="spacingAndGlyphs" stroke="#000" stroke-width="0.1"><tspan font-style="italic">π</tspan><tspan>/3</tspan></text>
<text x="475.64" y="309" font-size="8.4" font-family="Liberation Sans" textLength="17.5" lengthAdjust="spacingAndGlyphs" stroke="#000" stroke-width="0.1"><tspan>2</tspan><tspan font-style="italic">π</tspan><tspan>/3</tspan></text>
<text x="505.34" y="309" font-size="8.4" font-family="Liberation Sans" textLength="5.44" lengthAdjust="spacingAndGlyphs" stroke="#000" stroke-width="0.1"><tspan font-style="italic">π</tspan></text>
<text x="400.72" y="295.6" font-size="8.9" font-family="Liberation Sans" fill="#000" textLength="93.6" lengthAdjust="spacingAndGlyphs" stroke="#000" stroke-width="0.1">average fidelity 77.94%</text>
<text x="382.01" y="319" font-size="9.5" font-family="Liberation Sans" fill="#000" textLength="81.67" lengthAdjust="spacingAndGlyphs" stroke="#000" stroke-width="0.1">Rotation angle of</text>
<text x="466.01" y="317.9" font-size="9.3" font-family="Liberation Sans" font-style="italic" fill="#000" textLength="6.89" lengthAdjust="spacingAndGlyphs" stroke="#000" stroke-width="0.1">R</text>
<text x="473.03" y="320.4" font-size="6.5" font-family="Liberation Sans" font-style="italic" fill="#000" textLength="4.08" lengthAdjust="spacingAndGlyphs" stroke="#000" stroke-width="0.1">Z</text>
<text x="478.18" y="318.5" font-size="9.3" font-family="Liberation Sans" fill="#000" textLength="2.26" lengthAdjust="spacingAndGlyphs" stroke="#000" stroke-width="0.1">(</text>
<text x="481.45" y="318.1" font-size="9" font-family="Liberation Sans" font-style="italic" fill="#000" textLength="4.93" lengthAdjust="spacingAndGlyphs" stroke="#000" stroke-width="0.1">θ</text>
<text x="487.75" y="318.5" font-size="9.3" font-family="Liberation Sans" fill="#000" textLength="3.01" lengthAdjust="spacingAndGlyphs" stroke="#000" stroke-width="0.1">)</text>
<text x="533.3" y="176.5" font-size="12.2" font-family="Liberation Sans" font-weight="bold" fill="#000" >g</text>
<path d="M575.4 169.2 L574 172.5 L575.4 175.8" fill="none" stroke="#222" stroke-width="0.8"/>
<text x="575.7" y="174.8" font-size="8.3" font-family="Liberation Sans" font-style="italic" fill="#000" textLength="5.16" lengthAdjust="spacingAndGlyphs" stroke="#000" stroke-width="0.1">X</text>
<text x="581.05" y="176.4" font-size="5.7" font-family="Liberation Sans" fill="#000" textLength="2.4" lengthAdjust="spacingAndGlyphs" stroke="#000" stroke-width="0.1">L</text>
<path d="M585.4 169.2 L586.9 172.5 L585.4 175.8" fill="none" stroke="#222" stroke-width="0.8" stroke-linejoin="miter"/>
<path d="M600.5 169.2 L599.1 172.5 L600.5 175.8" fill="none" stroke="#222" stroke-width="0.8"/>
<text x="599.72" y="174.8" font-size="8.3" font-family="Liberation Sans" font-style="italic" fill="#000" textLength="5.94" lengthAdjust="spacingAndGlyphs" stroke="#000" stroke-width="0.1">Y</text>
<text x="606.15" y="176.4" font-size="5.7" font-family="Liberation Sans" fill="#000" textLength="2.4" lengthAdjust="spacingAndGlyphs" stroke="#000" stroke-width="0.1">L</text>
<path d="M610.5 169.2 L612 172.5 L610.5 175.8" fill="none" stroke="#222" stroke-width="0.8" stroke-linejoin="miter"/>
<path d="M625.7 169.2 L624.3 172.5 L625.7 175.8" fill="none" stroke="#222" stroke-width="0.8"/>
<text x="626.01" y="174.8" font-size="8.3" font-family="Liberation Sans" font-style="italic" fill="#000" textLength="5.15" lengthAdjust="spacingAndGlyphs" stroke="#000" stroke-width="0.1">Z</text>
<text x="631.35" y="176.4" font-size="5.7" font-family="Liberation Sans" fill="#000" textLength="2.4" lengthAdjust="spacingAndGlyphs" stroke="#000" stroke-width="0.1">L</text>
<path d="M635.7 169.2 L637.2 172.5 L635.7 175.8" fill="none" stroke="#222" stroke-width="0.8" stroke-linejoin="miter"/>
<text x="648.16" y="176.1" font-size="8.9" font-family="Liberation Sans" fill="#000" textLength="28.76" lengthAdjust="spacingAndGlyphs" stroke="#000" stroke-width="0.1">Fidelity</text>
<text x="549.73" y="188.6" font-size="8.9" font-family="Liberation Sans" fill="#000" textLength="13.93" lengthAdjust="spacingAndGlyphs" stroke="#000" stroke-width="0.1">exp</text>
<text x="549.85" y="199.9" font-size="8.9" font-family="Liberation Sans" fill="#000" textLength="13.73" lengthAdjust="spacingAndGlyphs" stroke="#000" stroke-width="0.1">sim</text>
<circle cx="580.9" cy="185.6" r="1.6" fill="#4280BA"/>
<rect x="604.5" y="184.1" width="3" height="3" fill="#5C9C72"/>
<path d="M629.3 183.9 L633.1 183.9 L631.2 187.2 Z" fill="#36455C"/>
<path d="M661.6 184.3 L664.2 186.9 M661.6 186.9 L664.2 184.3" stroke="#BD4F5A" stroke-width="1.0" fill="none"/>
<line x1="573.05" y1="197.3" x2="589.05" y2="197.3" stroke="#4280BA" stroke-width="0.8" />
<line x1="597.95" y1="197.3" x2="613.95" y2="197.3" stroke="#5C9C72" stroke-width="0.8" />
<line x1="624.55" y1="197.3" x2="640.55" y2="197.3" stroke="#36455C" stroke-width="0.8" />
<line x1="655.95" y1="197.3" x2="671.95" y2="197.3" stroke="#BD4F5A" stroke-width="0.8" />
<line x1="561.25" y1="205.4" x2="561.25" y2="298.5" stroke="#bdbdbd" stroke-width="0.65" stroke-dasharray="1.1 0.9"/>
<line x1="585.1" y1="205.4" x2="585.1" y2="298.5" stroke="#bdbdbd" stroke-width="0.65" stroke-dasharray="1.1 0.9"/>
<line x1="608.95" y1="205.4" x2="608.95" y2="298.5" stroke="#bdbdbd" stroke-width="0.65" stroke-dasharray="1.1 0.9"/>
<line x1="632.8" y1="205.4" x2="632.8" y2="298.5" stroke="#bdbdbd" stroke-width="0.65" stroke-dasharray="1.1 0.9"/>
<line x1="656.65" y1="205.4" x2="656.65" y2="298.5" stroke="#bdbdbd" stroke-width="0.65" stroke-dasharray="1.1 0.9"/>
<line x1="537.4" y1="228.67" x2="680.5" y2="228.67" stroke="#bdbdbd" stroke-width="0.65" stroke-dasharray="1.1 0.9"/>
<line x1="537.4" y1="251.95" x2="680.5" y2="251.95" stroke="#bdbdbd" stroke-width="0.65" stroke-dasharray="1.1 0.9"/>
<line x1="537.4" y1="275.22" x2="680.5" y2="275.22" stroke="#bdbdbd" stroke-width="0.65" stroke-dasharray="1.1 0.9"/>
<path d="M541.38 211.21 L542.24 211.32 L543.11 211.45 L543.98 211.59 L544.85 211.76 L545.72 211.94 L546.59 212.13 L547.46 212.35 L548.33 212.57 L549.2 212.81 L550.07 213.06 L550.94 213.32 L551.81 213.59 L552.68 213.86 L553.55 214.14 L554.42 214.43 L555.29 214.71 L556.16 214.99 L557.03 215.28 L557.9 215.56 L558.77 215.83 L559.64 216.1 L560.5 216.36 L561.37 216.61 L562.24 216.85 L563.11 217.07 L563.98 217.29 L564.85 217.48 L565.72 217.66 L566.59 217.83 L567.46 217.97 L568.33 218.1 L569.2 218.21 L570.07 218.3 L570.94 218.36 L571.81 218.41 L572.68 218.43 L573.55 218.43 L574.42 218.41 L575.29 218.37 L576.16 218.31 L577.03 218.22 L577.9 218.12 L578.76 217.99 L579.63 217.85 L580.5 217.69 L581.37 217.51 L582.24 217.31 L583.11 217.1 L583.98 216.88 L584.85 216.64 L585.72 216.39 L586.59 216.14 L587.46 215.87 L588.33 215.6 L589.2 215.32 L590.07 215.03 L590.94 214.75 L591.81 214.47 L592.68 214.18 L593.55 213.9 L594.42 213.63 L595.29 213.36 L596.16 213.1 L597.02 212.85 L597.89 212.61 L598.76 212.38 L599.63 212.16 L600.5 211.96 L601.37 211.78 L602.24 211.61 L603.11 211.46 L603.98 211.33 L604.85 211.22 L605.72 211.13 L606.59 211.07 L607.46 211.02 L608.33 210.99 L609.2 210.99 L610.07 211 L610.94 211.04 L611.81 211.1 L612.68 211.18 L613.55 211.29 L614.42 211.41 L615.29 211.55 L616.15 211.71 L617.02 211.88 L617.89 212.08 L618.76 212.29 L619.63 212.51 L620.5 212.74 L621.37 212.99 L622.24 213.25 L623.11 213.51 L623.98 213.79 L624.85 214.06 L625.72 214.34 L626.59 214.63 L627.46 214.91 L628.33 215.2 L629.2 215.48 L630.07 215.75 L630.94 216.02 L631.81 216.28 L632.68 216.54 L633.55 216.78 L634.41 217.01 L635.28 217.23 L636.15 217.43 L637.02 217.61 L637.89 217.78 L638.76 217.94 L639.63 218.07 L640.5 218.18 L641.37 218.27 L642.24 218.35 L643.11 218.4 L643.98 218.43 L644.85 218.43 L645.72 218.42 L646.59 218.38 L647.46 218.33 L648.33 218.25 L649.2 218.15 L650.07 218.03 L650.94 217.89 L651.81 217.74 L652.67 217.56 L653.54 217.37 L654.41 217.17 L655.28 216.94 L656.15 216.71 L657.02 216.47 L657.89 216.21 L658.76 215.95 L659.63 215.67 L660.5 215.4 L661.37 215.12 L662.24 214.83 L663.11 214.55 L663.98 214.26 L664.85 213.98 L665.72 213.71 L666.59 213.44 L667.46 213.17 L668.33 212.92 L669.2 212.67 L670.07 212.44 L670.94 212.22 L671.8 212.02 L672.67 211.83 L673.54 211.66 L674.41 211.51 L675.28 211.37 L676.15 211.25 L677.02 211.16 L677.89 211.08 L678.76 211.03 L679.63 211 L680.5 210.99" fill="none" stroke="#BD4F5A" stroke-width="0.9"/>
<path d="M541.38 251.95 L542.24 251.95 L543.11 251.95 L543.98 251.95 L544.85 251.95 L545.72 251.95 L546.59 251.95 L547.46 251.95 L548.33 251.95 L549.2 251.95 L550.07 251.95 L550.94 251.95 L551.81 251.95 L552.68 251.95 L553.55 251.95 L554.42 251.95 L555.29 251.95 L556.16 251.95 L557.03 251.95 L557.9 251.95 L558.77 251.95 L559.64 251.95 L560.5 251.95 L561.37 251.95 L562.24 251.95 L563.11 251.95 L563.98 251.95 L564.85 251.95 L565.72 251.95 L566.59 251.95 L567.46 251.95 L568.33 251.95 L569.2 251.95 L570.07 251.95 L570.94 251.95 L571.81 251.95 L572.68 251.95 L573.55 251.95 L574.42 251.95 L575.29 251.95 L576.16 251.95 L577.03 251.95 L577.9 251.95 L578.76 251.95 L579.63 251.95 L580.5 251.95 L581.37 251.95 L582.24 251.95 L583.11 251.95 L583.98 251.95 L584.85 251.95 L585.72 251.95 L586.59 251.95 L587.46 251.95 L588.33 251.95 L589.2 251.95 L590.07 251.95 L590.94 251.95 L591.81 251.95 L592.68 251.95 L593.55 251.95 L594.42 251.95 L595.29 251.95 L596.16 251.95 L597.02 251.95 L597.89 251.95 L598.76 251.95 L599.63 251.95 L600.5 251.95 L601.37 251.95 L602.24 251.95 L603.11 251.95 L603.98 251.95 L604.85 251.95 L605.72 251.95 L606.59 251.95 L607.46 251.95 L608.33 251.95 L609.2 251.95 L610.07 251.95 L610.94 251.95 L611.81 251.95 L612.68 251.95 L613.55 251.95 L614.42 251.95 L615.29 251.95 L616.15 251.95 L617.02 251.95 L617.89 251.95 L618.76 251.95 L619.63 251.95 L620.5 251.95 L621.37 251.95 L622.24 251.95 L623.11 251.95 L623.98 251.95 L624.85 251.95 L625.72 251.95 L626.59 251.95 L627.46 251.95 L628.33 251.95 L629.2 251.95 L630.07 251.95 L630.94 251.95 L631.81 251.95 L632.68 251.95 L633.55 251.95 L634.41 251.95 L635.28 251.95 L636.15 251.95 L637.02 251.95 L637.89 251.95 L638.76 251.95 L639.63 251.95 L640.5 251.95 L641.37 251.95 L642.24 251.95 L643.11 251.95 L643.98 251.95 L644.85 251.95 L645.72 251.95 L646.59 251.95 L647.46 251.95 L648.33 251.95 L649.2 251.95 L650.07 251.95 L650.94 251.95 L651.81 251.95 L652.67 251.95 L653.54 251.95 L654.41 251.95 L655.28 251.95 L656.15 251.95 L657.02 251.95 L657.89 251.95 L658.76 251.95 L659.63 251.95 L660.5 251.95 L661.37 251.95 L662.24 251.95 L663.11 251.95 L663.98 251.95 L664.85 251.95 L665.72 251.95 L666.59 251.95 L667.46 251.95 L668.33 251.95 L669.2 251.95 L670.07 251.95 L670.94 251.95 L671.8 251.95 L672.67 251.95 L673.54 251.95 L674.41 251.95 L675.28 251.95 L676.15 251.95 L677.02 251.95 L677.89 251.95 L678.76 251.95 L679.63 251.95 L680.5 251.95" fill="none" stroke="#4280BA" stroke-width="0.9"/>
<path d="M541.38 255.83 L542.24 256.67 L543.11 257.5 L543.98 258.32 L544.85 259.13 L545.72 259.93 L546.59 260.73 L547.46 261.5 L548.33 262.27 L549.2 263.02 L550.07 263.75 L550.94 264.46 L551.81 265.16 L552.68 265.84 L553.55 266.5 L554.42 267.14 L555.29 267.75 L556.16 268.34 L557.03 268.91 L557.9 269.45 L558.77 269.97 L559.64 270.46 L560.5 270.92 L561.37 271.36 L562.24 271.77 L563.11 272.15 L563.98 272.5 L564.85 272.82 L565.72 273.11 L566.59 273.37 L567.46 273.59 L568.33 273.79 L569.2 273.95 L570.07 274.09 L570.94 274.19 L571.81 274.25 L572.68 274.29 L573.55 274.29 L574.42 274.26 L575.29 274.2 L576.16 274.1 L577.03 273.98 L577.9 273.82 L578.76 273.62 L579.63 273.4 L580.5 273.15 L581.37 272.86 L582.24 272.55 L583.11 272.2 L583.98 271.83 L584.85 271.42 L585.72 270.99 L586.59 270.53 L587.46 270.04 L588.33 269.53 L589.2 268.99 L590.07 268.42 L590.94 267.84 L591.81 267.22 L592.68 266.59 L593.55 265.94 L594.42 265.26 L595.29 264.57 L596.16 263.85 L597.02 263.12 L597.89 262.38 L598.76 261.61 L599.63 260.84 L600.5 260.05 L601.37 259.25 L602.24 258.44 L603.11 257.62 L603.98 256.79 L604.85 255.95 L605.72 255.11 L606.59 254.26 L607.46 253.41 L608.33 252.56 L609.2 251.71 L610.07 250.85 L610.94 250 L611.81 249.15 L612.68 248.31 L613.55 247.47 L614.42 246.64 L615.29 245.81 L616.15 245 L617.02 244.19 L617.89 243.4 L618.76 242.62 L619.63 241.85 L620.5 241.1 L621.37 240.36 L622.24 239.64 L623.11 238.94 L623.98 238.25 L624.85 237.59 L625.72 236.94 L626.59 236.32 L627.46 235.73 L628.33 235.15 L629.2 234.6 L630.07 234.08 L630.94 233.58 L631.81 233.11 L632.68 232.66 L633.55 232.24 L634.41 231.86 L635.28 231.5 L636.15 231.17 L637.02 230.87 L637.89 230.6 L638.76 230.37 L639.63 230.16 L640.5 229.99 L641.37 229.85 L642.24 229.74 L643.11 229.66 L643.98 229.62 L644.85 229.61 L645.72 229.63 L646.59 229.68 L647.46 229.77 L648.33 229.88 L649.2 230.04 L650.07 230.22 L650.94 230.43 L651.81 230.68 L652.67 230.95 L653.54 231.26 L654.41 231.6 L655.28 231.96 L656.15 232.36 L657.02 232.78 L657.89 233.24 L658.76 233.72 L659.63 234.22 L660.5 234.76 L661.37 235.31 L662.24 235.89 L663.11 236.5 L663.98 237.13 L664.85 237.78 L665.72 238.44 L666.59 239.13 L667.46 239.84 L668.33 240.57 L669.2 241.31 L670.07 242.07 L670.94 242.84 L671.8 243.63 L672.67 244.42 L673.54 245.23 L674.41 246.05 L675.28 246.88 L676.15 247.71 L677.02 248.55 L677.89 249.4 L678.76 250.25 L679.63 251.1 L680.5 251.95" fill="none" stroke="#5C9C72" stroke-width="0.9"/>
<path d="M541.38 288.17 L542.24 287.9 L543.11 287.57 L543.98 287.2 L544.85 286.77 L545.72 286.3 L546.59 285.77 L547.46 285.19 L548.33 284.57 L549.2 283.9 L550.07 283.18 L550.94 282.41 L551.81 281.61 L552.68 280.75 L553.55 279.86 L554.42 278.93 L555.29 277.95 L556.16 276.94 L557.03 275.89 L557.9 274.81 L558.77 273.7 L559.64 272.55 L560.5 271.37 L561.37 270.16 L562.24 268.93 L563.11 267.67 L563.98 266.39 L564.85 265.09 L565.72 263.77 L566.59 262.43 L567.46 261.08 L568.33 259.71 L569.2 258.34 L570.07 256.95 L570.94 255.55 L571.81 254.15 L572.68 252.75 L573.55 251.35 L574.42 249.95 L575.29 248.55 L576.16 247.15 L577.03 245.76 L577.9 244.38 L578.76 243.01 L579.63 241.66 L580.5 240.32 L581.37 239 L582.24 237.69 L583.11 236.41 L583.98 235.15 L584.85 233.91 L585.72 232.7 L586.59 231.52 L587.46 230.37 L588.33 229.25 L589.2 228.16 L590.07 227.11 L590.94 226.09 L591.81 225.11 L592.68 224.17 L593.55 223.27 L594.42 222.41 L595.29 221.6 L596.16 220.83 L597.02 220.1 L597.89 219.42 L598.76 218.79 L599.63 218.21 L600.5 217.68 L601.37 217.19 L602.24 216.76 L603.11 216.38 L603.98 216.05 L604.85 215.77 L605.72 215.54 L606.59 215.37 L607.46 215.25 L608.33 215.19 L609.2 215.18 L610.07 215.22 L610.94 215.32 L611.81 215.46 L612.68 215.67 L613.55 215.92 L614.42 216.23 L615.29 216.59 L616.15 217 L617.02 217.46 L617.89 217.97 L618.76 218.54 L619.63 219.15 L620.5 219.81 L621.37 220.51 L622.24 221.26 L623.11 222.06 L623.98 222.9 L624.85 223.78 L625.72 224.7 L626.59 225.66 L627.46 226.67 L628.33 227.7 L629.2 228.78 L630.07 229.88 L630.94 231.02 L631.81 232.19 L632.68 233.39 L633.55 234.61 L634.41 235.87 L635.28 237.14 L636.15 238.43 L637.02 239.75 L637.89 241.08 L638.76 242.43 L639.63 243.79 L640.5 245.17 L641.37 246.55 L642.24 247.95 L643.11 249.34 L643.98 250.75 L644.85 252.15 L645.72 253.55 L646.59 254.96 L647.46 256.35 L648.33 257.74 L649.2 259.12 L650.07 260.5 L650.94 261.85 L651.81 263.2 L652.67 264.53 L653.54 265.84 L654.41 267.13 L655.28 268.39 L656.15 269.64 L657.02 270.86 L657.89 272.05 L658.76 273.21 L659.63 274.34 L660.5 275.43 L661.37 276.5 L662.24 277.52 L663.11 278.51 L663.98 279.47 L664.85 280.38 L665.72 281.25 L666.59 282.07 L667.46 282.86 L668.33 283.6 L669.2 284.29 L670.07 284.93 L670.94 285.53 L671.8 286.08 L672.67 286.57 L673.54 287.02 L674.41 287.42 L675.28 287.76 L676.15 288.06 L677.02 288.3 L677.89 288.48 L678.76 288.62 L679.63 288.7 L680.5 288.72" fill="none" stroke="#36455C" stroke-width="0.9"/>
<path d="M540.08 213.08 L542.67 215.68 M540.08 215.68 L542.67 213.08" stroke="#BD4F5A" stroke-width="1.0" fill="none"/>
<path d="M544.05 213.49 L546.65 216.09 M544.05 216.09 L546.65 213.49" stroke="#BD4F5A" stroke-width="1.0" fill="none"/>
<path d="M548.02 214.11 L550.62 216.71 M548.02 216.71 L550.62 214.11" stroke="#BD4F5A" stroke-width="1.0" fill="none"/>
<path d="M552 214.87 L554.6 217.47 M552 217.47 L554.6 214.87" stroke="#BD4F5A" stroke-width="1.0" fill="none"/>
<path d="M555.98 215.68 L558.57 218.28 M555.98 218.28 L558.57 215.68" stroke="#BD4F5A" stroke-width="1.0" fill="none"/>
<path d="M559.95 216.44 L562.55 219.04 M559.95 219.04 L562.55 216.44" stroke="#BD4F5A" stroke-width="1.0" fill="none"/>
<path d="M563.93 217.05 L566.52 219.65 M563.93 219.65 L566.52 217.05" stroke="#BD4F5A" stroke-width="1.0" fill="none"/>
<path d="M567.9 217.46 L570.5 220.06 M567.9 220.06 L570.5 217.46" stroke="#BD4F5A" stroke-width="1.0" fill="none"/>
<path d="M571.88 217.6 L574.47 220.2 M571.88 220.2 L574.47 217.6" stroke="#BD4F5A" stroke-width="1.0" fill="none"/>
<path d="M575.85 217.46 L578.45 220.06 M575.85 220.06 L578.45 217.46" stroke="#BD4F5A" stroke-width="1.0" fill="none"/>
<path d="M579.83 217.05 L582.42 219.65 M579.83 219.65 L582.42 217.05" stroke="#BD4F5A" stroke-width="1.0" fill="none"/>
<path d="M583.8 216.44 L586.4 219.04 M583.8 219.04 L586.4 216.44" stroke="#BD4F5A" stroke-width="1.0" fill="none"/>
<path d="M587.77 215.68 L590.37 218.28 M587.77 218.28 L590.37 215.68" stroke="#BD4F5A" stroke-width="1.0" fill="none"/>
<path d="M591.75 214.87 L594.35 217.47 M591.75 217.47 L594.35 214.87" stroke="#BD4F5A" stroke-width="1.0" fill="none"/>
<path d="M595.73 214.11 L598.32 216.71 M595.73 216.71 L598.32 214.11" stroke="#BD4F5A" stroke-width="1.0" fill="none"/>
<path d="M599.7 213.49 L602.3 216.09 M599.7 216.09 L602.3 213.49" stroke="#BD4F5A" stroke-width="1.0" fill="none"/>
<path d="M603.68 213.08 L606.27 215.68 M603.68 215.68 L606.27 213.08" stroke="#BD4F5A" stroke-width="1.0" fill="none"/>
<path d="M607.65 212.94 L610.25 215.54 M607.65 215.54 L610.25 212.94" stroke="#BD4F5A" stroke-width="1.0" fill="none"/>
<path d="M611.62 213.08 L614.22 215.68 M611.62 215.68 L614.22 213.08" stroke="#BD4F5A" stroke-width="1.0" fill="none"/>
<path d="M615.6 213.49 L618.2 216.09 M615.6 216.09 L618.2 213.49" stroke="#BD4F5A" stroke-width="1.0" fill="none"/>
<path d="M619.58 214.11 L622.17 216.71 M619.58 216.71 L622.17 214.11" stroke="#BD4F5A" stroke-width="1.0" fill="none"/>
<path d="M623.55 214.87 L626.15 217.47 M623.55 217.47 L626.15 214.87" stroke="#BD4F5A" stroke-width="1.0" fill="none"/>
<path d="M627.53 215.68 L630.12 218.28 M627.53 218.28 L630.12 215.68" stroke="#BD4F5A" stroke-width="1.0" fill="none"/>
<path d="M631.5 216.44 L634.1 219.04 M631.5 219.04 L634.1 216.44" stroke="#BD4F5A" stroke-width="1.0" fill="none"/>
<path d="M635.48 217.05 L638.07 219.65 M635.48 219.65 L638.07 217.05" stroke="#BD4F5A" stroke-width="1.0" fill="none"/>
<path d="M639.45 217.46 L642.05 220.06 M639.45 220.06 L642.05 217.46" stroke="#BD4F5A" stroke-width="1.0" fill="none"/>
<path d="M643.43 217.6 L646.02 220.2 M643.43 220.2 L646.02 217.6" stroke="#BD4F5A" stroke-width="1.0" fill="none"/>
<path d="M647.4 217.46 L650 220.06 M647.4 220.06 L650 217.46" stroke="#BD4F5A" stroke-width="1.0" fill="none"/>
<path d="M651.38 217.05 L653.97 219.65 M651.38 219.65 L653.97 217.05" stroke="#BD4F5A" stroke-width="1.0" fill="none"/>
<path d="M655.35 216.44 L657.95 219.04 M655.35 219.04 L657.95 216.44" stroke="#BD4F5A" stroke-width="1.0" fill="none"/>
<path d="M659.33 215.68 L661.92 218.28 M659.33 218.28 L661.92 215.68" stroke="#BD4F5A" stroke-width="1.0" fill="none"/>
<path d="M663.3 214.87 L665.9 217.47 M663.3 217.47 L665.9 214.87" stroke="#BD4F5A" stroke-width="1.0" fill="none"/>
<path d="M667.28 214.11 L669.88 216.71 M667.28 216.71 L669.88 214.11" stroke="#BD4F5A" stroke-width="1.0" fill="none"/>
<path d="M671.25 213.49 L673.85 216.09 M671.25 216.09 L673.85 213.49" stroke="#BD4F5A" stroke-width="1.0" fill="none"/>
<path d="M675.23 213.08 L677.82 215.68 M675.23 215.68 L677.82 213.08" stroke="#BD4F5A" stroke-width="1.0" fill="none"/>
<path d="M679.2 212.94 L681.8 215.54 M679.2 215.54 L681.8 212.94" stroke="#BD4F5A" stroke-width="1.0" fill="none"/>
<circle cx="541.38" cy="251.38" r="1.6" fill="#4280BA"/>
<circle cx="545.35" cy="251.48" r="1.6" fill="#4280BA"/>
<circle cx="549.32" cy="251.25" r="1.6" fill="#4280BA"/>
<circle cx="553.3" cy="250.86" r="1.6" fill="#4280BA"/>
<circle cx="557.27" cy="250.58" r="1.6" fill="#4280BA"/>
<circle cx="561.25" cy="250.62" r="1.6" fill="#4280BA"/>
<circle cx="565.23" cy="250.94" r="1.6" fill="#4280BA"/>
<circle cx="569.2" cy="251.32" r="1.6" fill="#4280BA"/>
<circle cx="573.17" cy="251.48" r="1.6" fill="#4280BA"/>
<circle cx="577.15" cy="251.32" r="1.6" fill="#4280BA"/>
<circle cx="581.12" cy="250.94" r="1.6" fill="#4280BA"/>
<circle cx="585.1" cy="250.62" r="1.6" fill="#4280BA"/>
<circle cx="589.07" cy="250.58" r="1.6" fill="#4280BA"/>
<circle cx="593.05" cy="250.86" r="1.6" fill="#4280BA"/>
<circle cx="597.02" cy="251.25" r="1.6" fill="#4280BA"/>
<circle cx="601" cy="251.48" r="1.6" fill="#4280BA"/>
<circle cx="604.98" cy="251.38" r="1.6" fill="#4280BA"/>
<circle cx="608.95" cy="251.02" r="1.6" fill="#4280BA"/>
<circle cx="612.92" cy="250.66" r="1.6" fill="#4280BA"/>
<circle cx="616.9" cy="250.56" r="1.6" fill="#4280BA"/>
<circle cx="620.88" cy="250.79" r="1.6" fill="#4280BA"/>
<circle cx="624.85" cy="251.18" r="1.6" fill="#4280BA"/>
<circle cx="628.83" cy="251.46" r="1.6" fill="#4280BA"/>
<circle cx="632.8" cy="251.42" r="1.6" fill="#4280BA"/>
<circle cx="636.77" cy="251.1" r="1.6" fill="#4280BA"/>
<circle cx="640.75" cy="250.72" r="1.6" fill="#4280BA"/>
<circle cx="644.73" cy="250.55" r="1.6" fill="#4280BA"/>
<circle cx="648.7" cy="250.72" r="1.6" fill="#4280BA"/>
<circle cx="652.67" cy="251.1" r="1.6" fill="#4280BA"/>
<circle cx="656.65" cy="251.42" r="1.6" fill="#4280BA"/>
<circle cx="660.62" cy="251.46" r="1.6" fill="#4280BA"/>
<circle cx="664.6" cy="251.18" r="1.6" fill="#4280BA"/>
<circle cx="668.58" cy="250.79" r="1.6" fill="#4280BA"/>
<circle cx="672.55" cy="250.56" r="1.6" fill="#4280BA"/>
<circle cx="676.52" cy="250.66" r="1.6" fill="#4280BA"/>
<circle cx="680.5" cy="251.02" r="1.6" fill="#4280BA"/>
<rect x="539.88" y="256.49" width="3" height="3" fill="#5C9C72"/>
<rect x="543.85" y="259.63" width="3" height="3" fill="#5C9C72"/>
<rect x="547.82" y="262.49" width="3" height="3" fill="#5C9C72"/>
<rect x="551.8" y="264.98" width="3" height="3" fill="#5C9C72"/>
<rect x="555.77" y="267.03" width="3" height="3" fill="#5C9C72"/>
<rect x="559.75" y="268.58" width="3" height="3" fill="#5C9C72"/>
<rect x="563.73" y="269.57" width="3" height="3" fill="#5C9C72"/>
<rect x="567.7" y="269.99" width="3" height="3" fill="#5C9C72"/>
<rect x="571.67" y="269.81" width="3" height="3" fill="#5C9C72"/>
<rect x="575.65" y="269.04" width="3" height="3" fill="#5C9C72"/>
<rect x="579.62" y="267.71" width="3" height="3" fill="#5C9C72"/>
<rect x="583.6" y="265.86" width="3" height="3" fill="#5C9C72"/>
<rect x="587.57" y="263.53" width="3" height="3" fill="#5C9C72"/>
<rect x="591.55" y="260.81" width="3" height="3" fill="#5C9C72"/>
<rect x="595.52" y="257.77" width="3" height="3" fill="#5C9C72"/>
<rect x="599.5" y="254.51" width="3" height="3" fill="#5C9C72"/>
<rect x="603.48" y="251.13" width="3" height="3" fill="#5C9C72"/>
<rect x="607.45" y="247.73" width="3" height="3" fill="#5C9C72"/>
<rect x="611.42" y="244.41" width="3" height="3" fill="#5C9C72"/>
<rect x="615.4" y="241.27" width="3" height="3" fill="#5C9C72"/>
<rect x="619.38" y="238.41" width="3" height="3" fill="#5C9C72"/>
<rect x="623.35" y="235.92" width="3" height="3" fill="#5C9C72"/>
<rect x="627.33" y="233.87" width="3" height="3" fill="#5C9C72"/>
<rect x="631.3" y="232.32" width="3" height="3" fill="#5C9C72"/>
<rect x="635.27" y="231.33" width="3" height="3" fill="#5C9C72"/>
<rect x="639.25" y="230.91" width="3" height="3" fill="#5C9C72"/>
<rect x="643.23" y="231.09" width="3" height="3" fill="#5C9C72"/>
<rect x="647.2" y="231.86" width="3" height="3" fill="#5C9C72"/>
<rect x="651.17" y="233.19" width="3" height="3" fill="#5C9C72"/>
<rect x="655.15" y="235.04" width="3" height="3" fill="#5C9C72"/>
<rect x="659.12" y="237.37" width="3" height="3" fill="#5C9C72"/>
<rect x="663.1" y="240.09" width="3" height="3" fill="#5C9C72"/>
<rect x="667.08" y="243.13" width="3" height="3" fill="#5C9C72"/>
<rect x="671.05" y="246.39" width="3" height="3" fill="#5C9C72"/>
<rect x="675.02" y="249.77" width="3" height="3" fill="#5C9C72"/>
<rect x="679" y="253.17" width="3" height="3" fill="#5C9C72"/>
<path d="M539.48 277.67 L543.27 277.67 L541.38 280.97 Z" fill="#36455C"/>
<path d="M543.45 275.54 L547.25 275.54 L545.35 278.84 Z" fill="#36455C"/>
<path d="M547.42 272.66 L551.22 272.66 L549.32 275.96 Z" fill="#36455C"/>
<path d="M551.4 269.1 L555.2 269.1 L553.3 272.4 Z" fill="#36455C"/>
<path d="M555.38 264.98 L559.17 264.98 L557.27 268.28 Z" fill="#36455C"/>
<path d="M559.35 260.42 L563.15 260.42 L561.25 263.72 Z" fill="#36455C"/>
<path d="M563.33 255.56 L567.12 255.56 L565.23 258.86 Z" fill="#36455C"/>
<path d="M567.3 250.55 L571.1 250.55 L569.2 253.85 Z" fill="#36455C"/>
<path d="M571.27 245.54 L575.07 245.54 L573.17 248.84 Z" fill="#36455C"/>
<path d="M575.25 240.68 L579.05 240.68 L577.15 243.98 Z" fill="#36455C"/>
<path d="M579.23 236.12 L583.02 236.12 L581.12 239.42 Z" fill="#36455C"/>
<path d="M583.2 232 L587 232 L585.1 235.3 Z" fill="#36455C"/>
<path d="M587.17 228.44 L590.97 228.44 L589.07 231.74 Z" fill="#36455C"/>
<path d="M591.15 225.56 L594.95 225.56 L593.05 228.86 Z" fill="#36455C"/>
<path d="M595.12 223.43 L598.92 223.43 L597.02 226.73 Z" fill="#36455C"/>
<path d="M599.1 222.13 L602.9 222.13 L601 225.43 Z" fill="#36455C"/>
<path d="M603.08 221.69 L606.88 221.69 L604.98 224.99 Z" fill="#36455C"/>
<path d="M607.05 222.13 L610.85 222.13 L608.95 225.43 Z" fill="#36455C"/>
<path d="M611.02 223.43 L614.82 223.43 L612.92 226.73 Z" fill="#36455C"/>
<path d="M615 225.56 L618.8 225.56 L616.9 228.86 Z" fill="#36455C"/>
<path d="M618.98 228.44 L622.77 228.44 L620.88 231.74 Z" fill="#36455C"/>
<path d="M622.95 232 L626.75 232 L624.85 235.3 Z" fill="#36455C"/>
<path d="M626.93 236.12 L630.73 236.12 L628.83 239.42 Z" fill="#36455C"/>
<path d="M630.9 240.68 L634.7 240.68 L632.8 243.98 Z" fill="#36455C"/>
<path d="M634.88 245.54 L638.67 245.54 L636.77 248.84 Z" fill="#36455C"/>
<path d="M638.85 250.55 L642.65 250.55 L640.75 253.85 Z" fill="#36455C"/>
<path d="M642.83 255.56 L646.62 255.56 L644.73 258.86 Z" fill="#36455C"/>
<path d="M646.8 260.42 L650.6 260.42 L648.7 263.72 Z" fill="#36455C"/>
<path d="M650.77 264.98 L654.57 264.98 L652.67 268.28 Z" fill="#36455C"/>
<path d="M654.75 269.1 L658.55 269.1 L656.65 272.4 Z" fill="#36455C"/>
<path d="M658.73 272.66 L662.52 272.66 L660.62 275.96 Z" fill="#36455C"/>
<path d="M662.7 275.54 L666.5 275.54 L664.6 278.84 Z" fill="#36455C"/>
<path d="M666.68 277.67 L670.48 277.67 L668.58 280.97 Z" fill="#36455C"/>
<path d="M670.65 278.97 L674.45 278.97 L672.55 282.27 Z" fill="#36455C"/>
<path d="M674.62 279.41 L678.42 279.41 L676.52 282.71 Z" fill="#36455C"/>
<path d="M678.6 278.97 L682.4 278.97 L680.5 282.27 Z" fill="#36455C"/>
<rect x="537.4" y="205.4" width="143.1" height="93.1" stroke="#7a7a7a" stroke-width="0.85" fill="none" />
<line x1="537.4" y1="298.5" x2="537.4" y2="300.3" stroke="#444" stroke-width="0.8" />
<line x1="561.25" y1="298.5" x2="561.25" y2="300.3" stroke="#444" stroke-width="0.8" />
<line x1="585.1" y1="298.5" x2="585.1" y2="300.3" stroke="#444" stroke-width="0.8" />
<line x1="608.95" y1="298.5" x2="608.95" y2="300.3" stroke="#444" stroke-width="0.8" />
<line x1="632.8" y1="298.5" x2="632.8" y2="300.3" stroke="#444" stroke-width="0.8" />
<line x1="656.65" y1="298.5" x2="656.65" y2="300.3" stroke="#444" stroke-width="0.8" />
<line x1="680.5" y1="298.5" x2="680.5" y2="300.3" stroke="#444" stroke-width="0.8" />
<line x1="535.6" y1="205.4" x2="537.4" y2="205.4" stroke="#444" stroke-width="0.8" />
<line x1="535.6" y1="228.67" x2="537.4" y2="228.67" stroke="#444" stroke-width="0.8" />
<line x1="535.6" y1="251.95" x2="537.4" y2="251.95" stroke="#444" stroke-width="0.8" />
<line x1="535.6" y1="275.22" x2="537.4" y2="275.22" stroke="#444" stroke-width="0.8" />
<line x1="535.6" y1="298.5" x2="537.4" y2="298.5" stroke="#444" stroke-width="0.8" />
<text x="521.93" y="208.3" font-size="8.2" font-family="Liberation Sans" fill="#000" textLength="12.31" lengthAdjust="spacingAndGlyphs" stroke="#000" stroke-width="0.1">1.0</text>
<text x="521.96" y="231.57" font-size="8.2" font-family="Liberation Sans" fill="#000" textLength="12.31" lengthAdjust="spacingAndGlyphs" stroke="#000" stroke-width="0.1">0.5</text>
<text x="521.93" y="254.85" font-size="8.2" font-family="Liberation Sans" fill="#000" textLength="12.31" lengthAdjust="spacingAndGlyphs" stroke="#000" stroke-width="0.1">0.0</text>
<text x="516.79" y="278.12" font-size="8.2" font-family="Liberation Sans" fill="#000" textLength="17.48" lengthAdjust="spacingAndGlyphs" stroke="#000" stroke-width="0.1">−0.5</text>
<text x="516.76" y="301.4" font-size="8.2" font-family="Liberation Sans" fill="#000" textLength="17.48" lengthAdjust="spacingAndGlyphs" stroke="#000" stroke-width="0.1">−1.0</text>
<text x="531.73" y="309" font-size="8.4" font-family="Liberation Sans" textLength="10.79" lengthAdjust="spacingAndGlyphs" stroke="#000" stroke-width="0.1"><tspan>−</tspan><tspan font-style="italic">π</tspan></text>
<text x="549.67" y="309" font-size="8.4" font-family="Liberation Sans" textLength="23.12" lengthAdjust="spacingAndGlyphs" stroke="#000" stroke-width="0.1"><tspan>−2</tspan><tspan font-style="italic">π</tspan><tspan>/3</tspan></text>
<text x="575.81" y="309" font-size="8.4" font-family="Liberation Sans" textLength="18.53" lengthAdjust="spacingAndGlyphs" stroke="#000" stroke-width="0.1"><tspan>−</tspan><tspan font-style="italic">π</tspan><tspan>/3</tspan></text>
<text x="606.27" y="309" font-size="8.4" font-family="Liberation Sans" textLength="5.35" lengthAdjust="spacingAndGlyphs" stroke="#000" stroke-width="0.1"><tspan>0</tspan></text>
<text x="626.26" y="309" font-size="8.4" font-family="Liberation Sans" textLength="13.07" lengthAdjust="spacingAndGlyphs" stroke="#000" stroke-width="0.1"><tspan font-style="italic">π</tspan><tspan>/3</tspan></text>
<text x="647.87" y="309" font-size="8.4" font-family="Liberation Sans" textLength="17.5" lengthAdjust="spacingAndGlyphs" stroke="#000" stroke-width="0.1"><tspan>2</tspan><tspan font-style="italic">π</tspan><tspan>/3</tspan></text>
<text x="677.54" y="309" font-size="8.4" font-family="Liberation Sans" textLength="5.44" lengthAdjust="spacingAndGlyphs" stroke="#000" stroke-width="0.1"><tspan font-style="italic">π</tspan></text>
<text x="573.72" y="295.6" font-size="8.9" font-family="Liberation Sans" fill="#000" textLength="93.5" lengthAdjust="spacingAndGlyphs" stroke="#000" stroke-width="0.1">average fidelity 75.02%</text>
<text x="554.51" y="319" font-size="9.5" font-family="Liberation Sans" fill="#000" textLength="81.67" lengthAdjust="spacingAndGlyphs" stroke="#000" stroke-width="0.1">Rotation angle of</text>
<text x="638.51" y="317.9" font-size="9.3" font-family="Liberation Sans" font-style="italic" fill="#000" textLength="6.89" lengthAdjust="spacingAndGlyphs" stroke="#000" stroke-width="0.1">R</text>
<text x="645.52" y="320.4" font-size="6.5" font-family="Liberation Sans" font-style="italic" fill="#000" textLength="4.09" lengthAdjust="spacingAndGlyphs" stroke="#000" stroke-width="0.1">X</text>
<text x="650.68" y="318.5" font-size="9.3" font-family="Liberation Sans" fill="#000" textLength="2.26" lengthAdjust="spacingAndGlyphs" stroke="#000" stroke-width="0.1">(</text>
<text x="653.95" y="318.1" font-size="9" font-family="Liberation Sans" font-style="italic" fill="#000" textLength="4.93" lengthAdjust="spacingAndGlyphs" stroke="#000" stroke-width="0.1">θ</text>
<text x="660.25" y="318.5" font-size="9.3" font-family="Liberation Sans" fill="#000" textLength="3.01" lengthAdjust="spacingAndGlyphs" stroke="#000" stroke-width="0.1">)</text>
</svg></body></html>
